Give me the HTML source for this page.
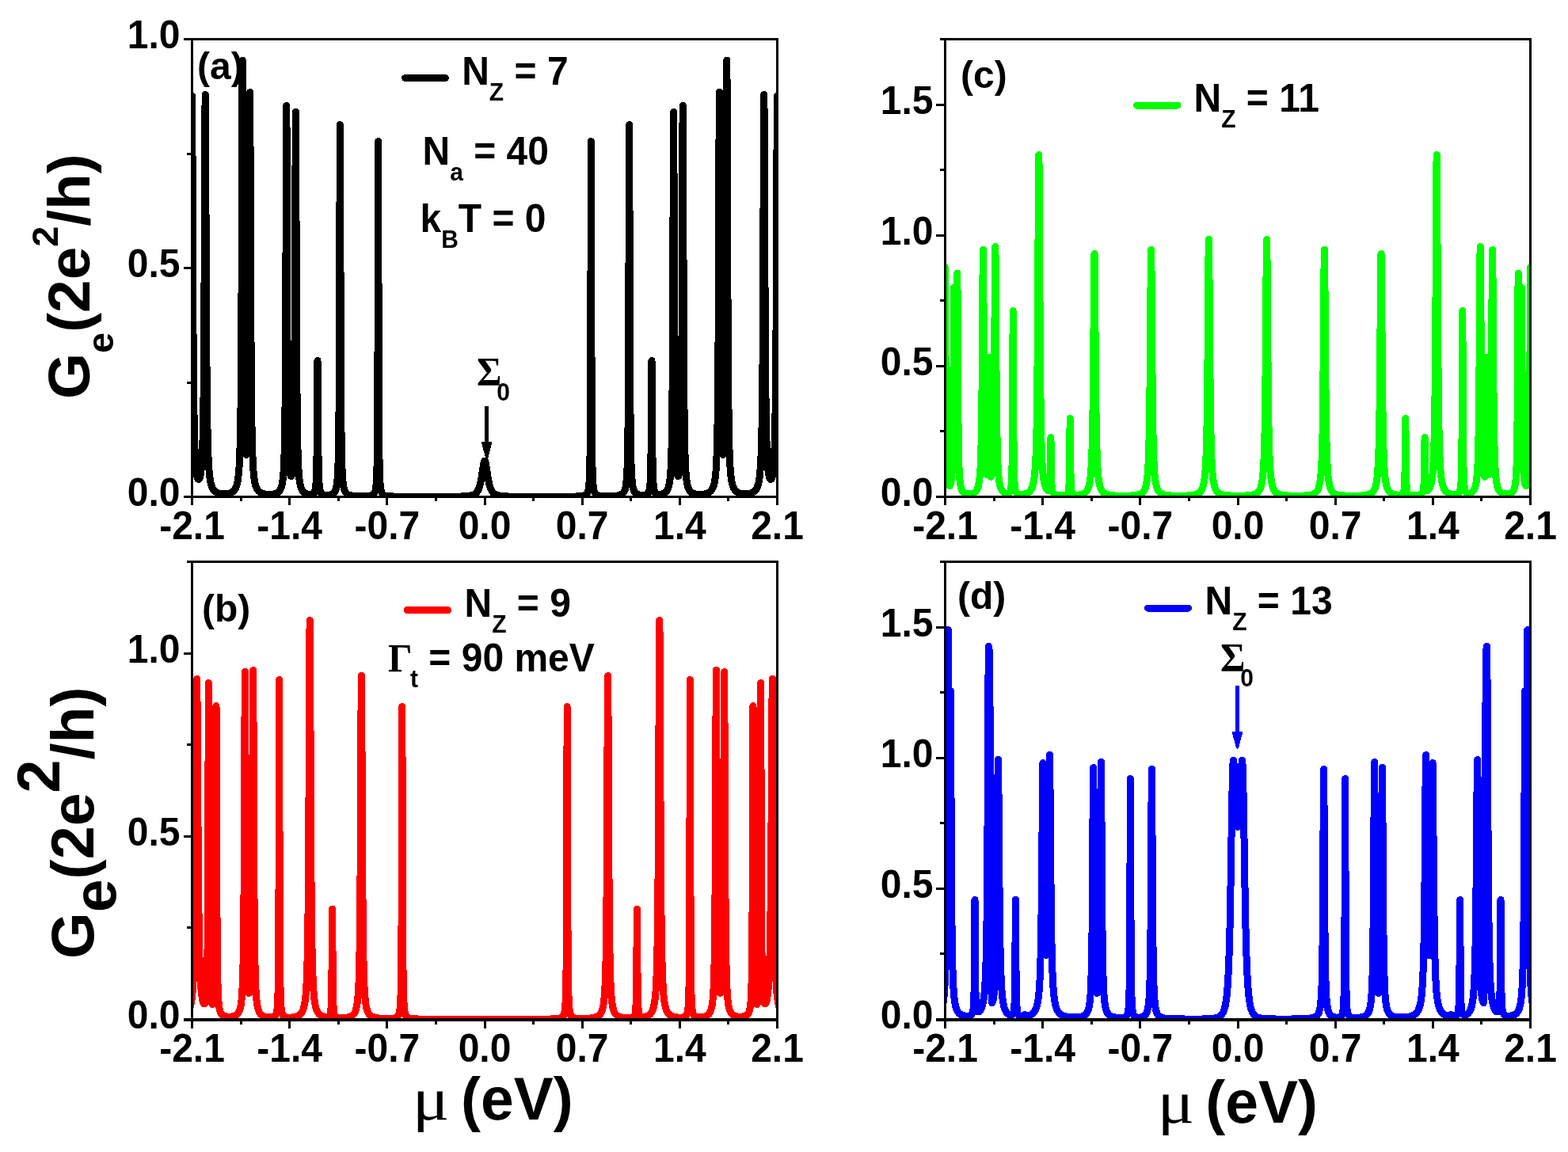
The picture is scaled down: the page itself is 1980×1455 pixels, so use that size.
<!DOCTYPE html>
<html lang="en"><head><meta charset="utf-8"><title>Conductance of zigzag graphene nanoribbon segments</title>
<style>html,body{margin:0;padding:0;background:#fff}body{width:1980px;height:1455px;overflow:hidden}svg{display:block}text{font-family:"Liberation Sans",sans-serif;font-weight:bold;fill:#000}.tk{font-size:48px}.ti{font-size:75px}.sy{font-family:"Liberation Serif",serif}.sr{font-family:"Liberation Serif",serif;font-weight:normal}</style></head><body>
<svg width="1980" height="1455" viewBox="0 0 1980 1455">
<rect width="1980" height="1455" fill="#fff"/>
<defs>
<clipPath id="clip-a"><rect x="241.0" y="48.0" width="742.0" height="581.0"/></clipPath>
<clipPath id="clip-b"><rect x="241.0" y="708.0" width="742.0" height="581.0"/></clipPath>
<clipPath id="clip-c"><rect x="1192.0" y="48.0" width="742.0" height="581.0"/></clipPath>
<clipPath id="clip-d"><rect x="1192.0" y="708.0" width="742.0" height="581.0"/></clipPath>
</defs>
<g clip-path="url(#clip-a)"><polyline points="234.5,614.25 235.1,612.26 235.6,610.22 236.1,607.71 236.6,604.59 237.4,597.73 238.1,588.74 238.7,577.32 239.2,563.48 239.6,547.98 240,526.45 240.5,486.15 241,421.68 241.4,344.31 242.1,169.38 242.3,134.42 242.4,124.81 242.5,121.5 242.6,124.74 242.7,134.28 242.9,169.11 243.5,320.29 243.9,403.79 244.2,450.01 244.6,494.31 245.1,530.71 245.4,545.91 245.8,561.09 246.2,572.19 246.7,582.21 247.2,589.34 247.8,595.35 248.4,599.47 249,602.28 249.3,603.29 249.7,604.32 250,604.87 250.4,605.33 250.8,605.5 251.2,605.38 251.6,604.98 251.9,604.48 252.3,603.52 252.6,602.56 253.2,599.91 253.7,596.76 254.2,592.46 254.6,587.9 255,581.98 255.4,574.22 255.7,566.75 256.2,549.8 256.6,530.24 257,502.42 257.3,473.59 257.6,435.19 258.1,342.39 258.9,147.53 259.1,122.76 259.2,119.5 259.3,122.82 259.4,132.46 259.6,167.53 260.2,319.64 260.6,403.7 260.9,450.29 261.2,485.38 261.7,525.8 262.3,555.78 262.7,569.1 263.1,579.04 263.6,588.25 264.1,595.03 264.8,601.85 265.2,604.79 265.7,607.76 266.2,610.16 266.7,612.11 267.3,614.01 268,615.77 268.8,617.34 269.6,618.57 270.5,619.66 271.5,620.61 272.6,621.4 273.9,622.12 275.3,622.68 276.9,623.15 279.2,623.57 281.8,623.78 284.5,623.77 287,623.53 289.2,623.11 291.1,622.51 292.8,621.71 294.3,620.69 295.5,619.54 296.6,618.1 297.5,616.52 298.3,614.66 299,612.53 299.6,610.18 300.2,607.15 300.7,603.88 301.4,597.65 302,589.91 302.5,580.75 302.9,570.67 303.3,556.87 303.6,542.94 303.9,524.58 304.2,499.9 304.6,452.24 304.9,400.18 305.3,300.88 305.9,115.66 306.1,80.88 306.2,76.1 306.3,80.61 306.5,114.85 307.3,352.08 307.8,447.64 308.1,484.23 308.5,517.55 308.9,539.35 309.4,556.62 309.9,566.88 310.2,570.69 310.5,573.12 310.8,574.33 310.9,574.48 311,574.5 311.1,574.39 311.4,573.3 311.7,570.98 312.2,563.86 312.7,551.2 313.1,535.03 313.4,517.55 313.9,472.18 314.3,412.48 314.7,321.85 315.3,152.27 315.5,120.65 315.6,116.5 315.7,120.95 315.9,153.15 316.6,350.74 317.1,450.3 317.4,489.09 317.7,517.21 318,537.88 318.4,557.66 318.9,574.4 319.5,587.52 320.2,597.36 320.6,601.37 321.1,605.29 321.6,608.34 322.2,611.18 322.8,613.39 323.5,615.39 324.3,617.14 325.2,618.64 326.3,620.02 327.5,621.12 328.5,621.82 329.7,622.47 331,623.01 332.4,623.46 334,623.83 335.8,624.11 337.7,624.3 339.6,624.38 341.5,624.37 343.4,624.25 345.1,624.04 346.7,623.72 348.1,623.32 349.3,622.84 350.4,622.26 351.4,621.55 352.1,620.92 352.8,620.13 353.4,619.3 353.9,618.47 354.4,617.47 354.9,616.25 355.7,613.67 356.4,610.47 357,606.62 357.5,602.21 358,596.1 358.4,589.36 358.7,582.72 359,574.14 359.3,562.83 359.8,534.34 360.2,496.73 360.7,414.96 361.5,178.18 361.7,138.93 361.8,133.5 361.9,138.83 362.1,177.86 362.7,365.01 363.2,468.37 363.5,505.97 363.9,538.93 364.4,563.9 364.9,578.89 365.2,585.03 365.6,591.02 366,595.23 366.5,598.69 367,600.67 367.2,601.13 367.5,601.47 367.7,601.49 367.8,601.43 368.1,601 368.4,600.16 368.6,599.36 369,597.06 369.4,593.65 369.8,588.74 370.1,583.72 370.6,571.56 371.1,551.69 371.4,533.53 371.7,507.87 372.2,437.32 372.6,341.29 373.1,185.13 373.3,146.74 373.4,141.5 373.5,146.85 373.7,185.46 374.3,370.25 374.7,456.64 375.2,519.57 375.5,542.78 375.8,559.45 376.2,575.09 376.7,588.08 377.3,598.1 378,605.52 378.4,608.51 378.9,611.43 379.5,614.07 380.1,616.06 380.8,617.83 381.5,619.18 382.4,620.49 383.4,621.56 384.5,622.42 385.8,623.16 387.3,623.75 388.9,624.16 390.6,624.39 392.3,624.42 393.7,624.24 394.9,623.82 395.7,623.31 396.4,622.59 396.9,621.82 397.4,620.7 397.8,619.4 398.1,618.07 398.4,616.28 398.7,613.81 399.1,608.75 399.5,599.94 399.8,588.52 400,576.79 400.4,535.66 400.8,470.8 400.9,459.6 401,455.5 401.1,459.61 401.2,470.81 401.7,548.83 402.1,583.27 402.4,596.86 402.7,605.12 403.1,611.76 403.4,614.91 403.7,617.15 404,618.79 404.3,620.02 404.7,621.24 405.1,622.13 405.6,622.95 406.2,623.63 406.8,624.12 407.6,624.57 408.7,624.96 410,625.22 411.5,625.37 413.2,625.39 414.9,625.29 416.5,625.07 417.9,624.74 419.1,624.31 420.5,623.55 421.1,623.08 421.7,622.5 422.2,621.9 422.7,621.16 423.5,619.56 424.2,617.52 424.8,614.99 425.3,612.02 425.8,607.79 426.3,601.49 426.7,593.97 427,585.98 427.3,574.84 427.7,551.83 428.1,511.6 428.4,460.26 428.6,409.86 429.2,189.3 429.3,165.87 429.4,157.5 429.5,165.88 429.6,189.3 430.1,378.59 430.4,460.29 430.8,524.04 431,543.9 431.3,564.88 431.6,579.06 432,591.65 432.5,601.58 433,607.89 433.3,610.62 433.7,613.45 434.1,615.62 434.6,617.67 435.1,619.22 435.7,620.62 436.4,621.83 437.1,622.74 437.9,623.51 438.7,624.1 439.6,624.6 440.7,625.06 441.9,625.43 443.3,625.75 446.7,626.22 449.5,626.44 452.9,626.59 456.6,626.66 460.2,626.65 463,626.55 465.3,626.39 467.1,626.16 468.6,625.84 470.1,625.29 470.7,624.97 471.3,624.54 472.2,623.61 472.6,623.03 473,622.29 473.7,620.42 474.2,618.34 474.6,615.89 475,612.27 475.3,608.31 475.6,602.56 475.9,593.8 476.1,585.2 476.4,564.86 476.7,527.18 477,451.21 477.5,197.02 477.6,178.5 477.7,197.02 478.2,451.21 478.5,527.2 478.8,564.87 479,579.66 479.3,593.83 479.6,602.58 480,609.82 480.5,615.16 480.8,617.27 481.1,618.87 481.4,620.12 481.8,621.39 482.3,622.56 482.8,623.41 483.2,623.93 483.7,624.45 484.8,625.24 486.2,625.84 487.9,626.28 490.1,626.6 492.9,626.83 496.7,627 501.7,627.12 516.6,627.26 542,627.31 564,627.27 577.3,627.14 584.4,626.94 589.6,626.6 591.7,626.38 593.5,626.1 595.1,625.77 596.5,625.38 598,624.81 599.4,624.07 600.6,623.21 601.6,622.26 602.5,621.16 603.4,619.75 604.2,618.16 605,616.17 605.6,614.34 606.2,612.18 606.8,609.64 607.4,606.68 608.3,601.46 610.1,589.49 610.8,585.5 611.2,583.79 611.5,582.86 611.8,582.29 612.1,582.1 612.4,582.29 612.7,582.86 613,583.79 613.4,585.5 614.1,589.49 615.9,601.46 616.8,606.68 617.4,609.64 618,612.18 618.6,614.34 619.2,616.17 620,618.16 620.8,619.75 621.7,621.16 622.6,622.26 623.7,623.29 624.9,624.13 626.3,624.85 627.8,625.41 629.2,625.79 630.8,626.12 632.7,626.4 634.8,626.62 640,626.94 647.3,627.15 661.6,627.28 685.4,627.31 709.8,627.25 723.7,627.09 728.4,626.96 731.9,626.78 734.6,626.52 736.6,626.17 738.2,625.7 739.5,625.06 740.1,624.63 740.6,624.16 741.4,623.1 741.9,622.14 742.4,620.8 742.8,619.32 743.1,617.85 743.4,615.93 743.7,613.36 744.1,608.34 744.5,600.08 744.8,589.88 745.2,564.87 745.5,527.2 745.8,451.21 746.3,197.02 746.4,178.5 746.5,197.02 747,451.21 747.3,527.18 747.6,564.86 747.9,585.2 748.1,593.8 748.4,602.56 748.7,608.31 749,612.27 749.4,615.89 749.8,618.34 750.3,620.42 751,622.29 751.4,623.03 751.8,623.61 752.3,624.18 752.8,624.62 753.4,625.03 754,625.34 755.5,625.87 757.1,626.19 759.1,626.43 761.5,626.58 764.5,626.66 768.3,626.65 772.1,626.56 775.4,626.38 778.1,626.14 779.9,625.89 781.4,625.6 782.7,625.26 783.9,624.83 784.9,624.34 785.8,623.75 786.6,623.05 787.3,622.25 788,621.19 788.7,619.73 789.2,618.34 789.7,616.51 790.1,614.6 790.5,612.14 790.9,608.87 791.2,605.68 791.7,598.17 792.1,589 792.5,574.9 792.8,558.81 793.2,524.04 793.6,460.29 793.9,378.59 794.4,189.3 794.5,165.88 794.6,157.5 794.7,165.87 794.8,189.3 795.4,409.86 795.6,460.26 795.9,511.6 796.3,551.83 796.7,574.84 797,585.98 797.3,593.97 797.7,601.49 798.2,607.79 798.7,612.02 799.2,614.99 799.8,617.52 800.5,619.56 801.3,621.16 801.8,621.9 802.3,622.5 802.9,623.08 803.5,623.55 804.9,624.31 806.1,624.74 807.5,625.07 809.1,625.29 810.8,625.39 812.5,625.37 814,625.22 815.3,624.96 816.4,624.57 817.2,624.12 817.8,623.63 818.4,622.95 818.9,622.13 819.3,621.24 819.7,620.02 820,618.79 820.3,617.15 820.6,614.91 820.9,611.76 821.3,605.12 821.6,596.86 821.9,583.27 822.3,548.83 822.8,470.81 822.9,459.61 823,455.5 823.1,459.6 823.2,470.8 823.6,535.66 824,576.79 824.3,592.99 824.6,602.66 825,610.27 825.4,614.73 825.7,616.94 826,618.56 826.4,620.11 826.8,621.2 827.3,622.16 827.9,622.94 828.6,623.53 829.4,623.96 830.7,624.32 832.2,624.44 833.9,624.34 835.7,624.03 837.3,623.54 838.7,622.91 839.9,622.14 841,621.17 841.9,620.09 842.7,618.83 843.4,617.37 844.1,615.46 844.7,613.27 845.2,610.9 845.7,607.83 846.1,604.65 846.5,600.58 846.8,596.72 847.4,585.9 847.9,571.72 848.3,554.47 848.6,535.91 848.9,509.86 849.4,438.7 849.8,342.19 850.3,185.46 850.5,146.85 850.6,141.5 850.7,146.74 850.9,185.13 851.4,341.29 851.8,437.32 852.3,507.87 852.6,533.53 852.9,551.69 853.4,571.56 853.9,583.72 854.2,588.74 854.6,593.65 855,597.06 855.4,599.36 855.6,600.16 855.9,601 856.2,601.43 856.3,601.49 856.5,601.47 856.8,601.13 857,600.67 857.5,598.69 858,595.23 858.4,591.02 858.8,585.03 859.1,578.89 859.6,563.9 860.1,538.93 860.5,505.97 860.8,468.37 861.3,365.01 861.9,177.86 862.1,138.83 862.2,133.5 862.3,138.93 862.5,178.18 863.3,414.96 863.8,496.73 864.2,534.34 864.7,562.83 865,574.14 865.3,582.72 865.7,591.24 866.1,597.5 866.6,603.21 867.1,607.36 867.7,611 868.5,614.4 869.3,616.76 869.8,617.89 870.3,618.82 870.9,619.74 871.5,620.49 872.2,621.2 872.9,621.78 874,622.49 875.2,623.06 876.5,623.51 878,623.88 879.7,624.15 881.5,624.32 883.5,624.39 885.5,624.34 887.4,624.2 889.2,623.97 890.9,623.63 892.4,623.22 893.8,622.7 895,622.11 896.1,621.42 897.1,620.61 898.2,619.44 899.2,618.03 900.1,616.33 900.9,614.31 901.6,611.98 902.2,609.37 902.7,606.6 903.2,603.06 903.6,599.48 904,594.97 904.4,589.21 904.7,583.76 905.2,571.57 905.7,553.37 906.1,531.66 906.4,508.8 906.7,477.54 907,434.3 907.4,350.74 908.1,153.15 908.3,120.95 908.4,116.5 908.5,120.65 908.7,152.27 909.3,321.85 909.7,412.48 910.1,472.18 910.6,517.55 910.9,535.03 911.3,551.2 911.8,563.86 912.3,570.98 912.6,573.3 912.9,574.39 913,574.5 913.1,574.48 913.2,574.33 913.5,573.12 913.8,570.69 914.1,566.88 914.6,556.62 915.1,539.35 915.5,517.55 915.9,484.23 916.2,447.64 916.7,352.08 917.5,114.85 917.7,80.61 917.8,76.1 917.9,80.88 918.1,115.66 918.7,300.88 919.1,400.18 919.4,452.24 919.8,499.9 920.1,524.58 920.4,542.94 920.7,556.87 921.1,570.67 921.5,580.75 922,589.91 922.6,597.65 923.3,603.88 923.8,607.15 924.4,610.18 925,612.53 925.7,614.66 926.5,616.52 927.4,618.1 928.5,619.54 929.7,620.69 931.2,621.71 932.9,622.51 934.8,623.11 937,623.53 939.5,623.77 942.2,623.78 944.8,623.57 947.1,623.15 948.7,622.68 950.1,622.12 951.4,621.4 952.5,620.61 953.5,619.66 954.4,618.57 955.2,617.34 956,615.77 956.7,614.01 957.3,612.11 957.8,610.16 958.3,607.76 958.8,604.79 959.2,601.85 959.9,595.03 960.4,588.25 960.9,579.04 961.3,569.1 961.7,555.78 962.3,525.8 962.8,485.38 963.1,450.29 963.4,403.7 963.8,319.64 964.4,167.53 964.6,132.46 964.7,122.82 964.8,119.5 964.9,122.76 965.1,147.53 965.9,342.39 966.4,435.19 966.7,473.59 967,502.42 967.4,530.24 967.8,549.8 968.3,566.75 968.6,574.22 969,581.98 969.4,587.9 969.8,592.46 970.3,596.76 970.8,599.91 971.4,602.56 971.7,603.52 972.1,604.48 972.4,604.98 972.8,605.38 973.2,605.5 973.6,605.33 974,604.87 974.3,604.32 974.7,603.29 975,602.28 975.6,599.47 976.2,595.35 976.8,589.34 977.3,582.21 977.8,572.19 978.2,561.09 978.6,545.91 978.9,530.71 979.4,494.31 979.8,450.01 980.1,403.79 980.5,320.29 981.1,169.11 981.3,134.28 981.4,124.74 981.5,121.5 981.6,124.81 981.7,134.42 981.9,169.38 982.6,344.31 983,421.68 983.5,486.15 984,526.45 984.4,547.98 984.8,563.48 985.3,577.32 985.9,588.74 986.6,597.73 987.4,604.59 987.9,607.71 988.4,610.22 988.9,612.26 989.5,614.25" fill="none" stroke="#000000" stroke-width="9.0" stroke-linejoin="round" stroke-linecap="butt" shape-rendering="crispEdges"/></g>
<path d="M241.0 49.5H983.0M241.0 627.5H983.0M242.5 49.5V627.5M981.5 49.5V627.5M242.5 627.5v10.0M304.08 627.5v5.5M365.67 627.5v10.0M427.25 627.5v5.5M488.83 627.5v10.0M550.42 627.5v5.5M612 627.5v10.0M673.58 627.5v5.5M735.17 627.5v10.0M796.75 627.5v5.5M858.33 627.5v10.0M919.92 627.5v5.5M981.5 627.5v10.0M242.5 627.5h-10.5M242.5 483h-6.5M242.5 338.5h-10.5M242.5 194h-6.5M242.5 49.5h-10.5" fill="none" stroke="#000" stroke-width="3" shape-rendering="crispEdges"/>
<text class="tk" transform="translate(242.5 680.7) scale(1 1.05)" text-anchor="middle">-2.1</text>
<text class="tk" transform="translate(365.67 680.7) scale(1 1.05)" text-anchor="middle">-1.4</text>
<text class="tk" transform="translate(488.83 680.7) scale(1 1.05)" text-anchor="middle">-0.7</text>
<text class="tk" transform="translate(612 680.7) scale(1 1.05)" text-anchor="middle">0.0</text>
<text class="tk" transform="translate(735.17 680.7) scale(1 1.05)" text-anchor="middle">0.7</text>
<text class="tk" transform="translate(858.33 680.7) scale(1 1.05)" text-anchor="middle">1.4</text>
<text class="tk" transform="translate(981.5 680.7) scale(1 1.05)" text-anchor="middle">2.1</text>
<text class="tk" transform="translate(227.5 639.1) scale(1 1.05)" text-anchor="end">0.0</text>
<text class="tk" transform="translate(227.5 350.1) scale(1 1.05)" text-anchor="end">0.5</text>
<text class="tk" transform="translate(227.5 61.1) scale(1 1.05)" text-anchor="end">1.0</text>
<g clip-path="url(#clip-b)"><polyline points="234.5,1281.55 235.8,1280.38 237,1278.94 238,1277.38 238.9,1275.55 239.7,1273.47 240.4,1271.16 241.1,1268.21 241.7,1264.99 242.2,1261.65 242.7,1257.5 243.2,1252.28 243.6,1247.07 244.3,1234.79 244.9,1219.45 245.4,1201.31 245.8,1181.59 246.2,1155.28 246.5,1129.78 247.1,1059.1 248.2,882.98 248.4,864.18 248.5,859.2 248.6,857.5 248.7,859.17 248.8,864.12 249,882.86 250.2,1072.44 250.6,1119.34 251.1,1161.82 251.7,1195.89 252,1208.19 252.4,1221.15 252.8,1231.16 253.2,1239.01 253.7,1246.59 254.3,1253.33 254.8,1257.53 255.4,1261.34 256,1264.11 256.6,1266.07 256.9,1266.78 257.3,1267.46 257.6,1267.79 257.9,1267.94 258.2,1267.91 258.5,1267.69 258.8,1267.23 259.1,1266.51 259.5,1265.03 259.9,1262.74 260.3,1259.29 260.6,1255.58 261.1,1245.87 261.5,1232.49 261.8,1216.4 262,1200.85 262.4,1149.11 262.7,1078.73 263.2,896.16 263.3,871.45 263.4,862.5 263.5,871.49 263.6,896.26 264.1,1079.06 264.5,1166.07 264.8,1201.51 265.2,1228.71 265.6,1244.13 265.9,1251.53 266.2,1256.77 266.5,1260.56 266.9,1264.07 267.3,1266.35 267.7,1267.73 267.9,1268.15 268.1,1268.41 268.4,1268.49 268.6,1268.34 268.9,1267.81 269.1,1267.22 269.5,1265.38 269.8,1263.27 270.1,1260.28 270.6,1252.35 271,1241.46 271.3,1228.47 271.7,1198.99 272.1,1141.49 272.4,1063.94 272.8,922.98 272.9,899.85 273,891.5 273.1,899.96 273.2,923.2 273.7,1094.71 274.1,1176.42 274.4,1209.79 274.7,1230.42 275.1,1247.21 275.5,1257.39 275.8,1262.57 276.1,1266.43 276.5,1270.21 276.9,1272.95 277.4,1275.44 277.9,1277.24 278.5,1278.81 279.3,1280.29 280.2,1281.42 281.3,1282.35 282.6,1283.07 284.1,1283.6 286,1283.98 288.2,1284.18 290.5,1284.16 292.7,1283.95 294.7,1283.55 296.4,1282.99 297.9,1282.24 299.2,1281.3 300.3,1280.17 301.3,1278.73 302.2,1276.91 302.9,1274.98 303.5,1272.79 304.1,1269.86 304.6,1266.6 305.1,1262.25 305.5,1257.62 305.8,1253.2 306.4,1240.64 306.9,1223.94 307.3,1203.35 307.6,1181.02 307.9,1149.63 308.4,1065.8 309.1,884.44 309.3,852.86 309.4,848.5 309.5,852.7 309.7,883.96 310.3,1041.51 310.6,1103.11 311,1158.66 311.4,1193.28 311.7,1210.64 312,1223.21 312.4,1234.95 312.8,1242.85 313.3,1249.17 313.6,1251.6 313.9,1253.24 314.2,1254.17 314.4,1254.44 314.6,1254.44 314.9,1253.92 315.2,1252.74 315.7,1249.11 316.2,1242.75 316.6,1234.81 316.9,1226.42 317.2,1215.05 317.5,1199.41 317.9,1168.43 318.2,1133.53 318.5,1083.84 319.3,882.13 319.5,850.72 319.6,846.5 319.7,850.88 319.9,882.62 320.5,1041.92 320.8,1104.33 321.1,1149.1 321.4,1180.65 321.9,1214.5 322.2,1227.8 322.6,1240.58 323,1249.65 323.5,1257.65 324,1263.3 324.6,1268.12 325,1270.54 325.4,1272.5 325.9,1274.48 326.4,1276.06 327,1277.57 327.6,1278.77 328.3,1279.88 329.1,1280.88 330,1281.75 331,1282.5 332.1,1283.12 333.3,1283.64 334.7,1284.09 336.3,1284.45 338,1284.71 339.7,1284.85 341.2,1284.89 342.6,1284.83 343.8,1284.68 344.9,1284.42 345.8,1284.08 346.6,1283.61 347.2,1283.1 347.8,1282.38 348.3,1281.52 348.7,1280.59 349.1,1279.31 349.4,1278.03 349.7,1276.35 350,1274.06 350.4,1269.51 350.7,1264.18 350.9,1259.08 351.3,1241.92 351.6,1216.43 351.8,1186.4 352.1,1098.98 352.5,879.41 352.6,858.5 352.7,879.41 353.1,1098.98 353.4,1186.41 353.6,1216.45 353.9,1241.94 354.3,1259.1 354.5,1264.2 354.8,1269.54 355.2,1274.1 355.6,1277.01 356.1,1279.36 356.4,1280.36 356.8,1281.37 357.2,1282.14 357.6,1282.72 358.1,1283.28 358.7,1283.77 359.4,1284.19 360.1,1284.48 360.9,1284.72 361.9,1284.92 363.6,1285.09 365.6,1285.13 367.8,1285.04 369.9,1284.82 371.8,1284.5 373.6,1284.07 375.1,1283.57 376.5,1282.95 377.7,1282.24 378.7,1281.49 379.6,1280.64 380.5,1279.56 381.3,1278.35 382,1277.02 382.6,1275.62 383.2,1273.9 383.8,1271.77 384.3,1269.57 384.8,1266.86 385.3,1263.47 385.7,1260.12 386.1,1256.01 386.7,1247.88 387.3,1236.23 387.8,1222.26 388.2,1206.78 388.6,1185.56 389.1,1146.58 389.6,1085.68 390.1,992.46 390.8,826.68 391,795.04 391.1,786.43 391.2,783.5 391.3,786.43 391.4,795.04 391.6,826.68 392.4,1013.99 392.9,1100.13 393.2,1136.49 393.6,1171.97 394,1197.04 394.4,1215.11 394.9,1231.22 395.6,1246.23 396.3,1256.01 396.7,1260.12 397.2,1264.22 397.7,1267.45 398.3,1270.51 399,1273.25 399.7,1275.36 400.5,1277.23 401.5,1278.99 402.5,1280.3 403.7,1281.48 404.8,1282.29 406,1282.96 407.3,1283.51 408.8,1283.97 410.4,1284.29 411.9,1284.42 413.2,1284.38 414.3,1284.15 415,1283.84 415.6,1283.39 416.1,1282.81 416.5,1282.11 416.9,1281.07 417.2,1279.93 417.7,1276.78 418.1,1271.95 418.4,1265.37 418.6,1258.22 418.8,1247.09 419.1,1216.93 419.5,1153.39 419.6,1148.1 419.7,1153.4 420.2,1229.41 420.5,1253.38 420.8,1265.5 421.1,1272.11 421.3,1274.93 421.6,1277.8 421.9,1279.7 422.2,1281.01 422.6,1282.21 423,1283.03 423.5,1283.73 424,1284.21 424.7,1284.66 425.5,1285 426.5,1285.26 427.8,1285.46 429.8,1285.6 432.2,1285.61 434.7,1285.49 437.1,1285.24 439.1,1284.92 440.8,1284.51 442.3,1284 443.6,1283.4 445.1,1282.43 445.8,1281.82 446.4,1281.19 447.5,1279.71 448.5,1277.79 449.4,1275.33 450.1,1272.68 450.7,1269.63 451.3,1265.5 451.9,1259.76 452.4,1253.08 452.8,1245.86 453.2,1236.2 453.6,1222.92 453.9,1209.52 454.4,1176.97 454.8,1136.53 455.1,1093.61 456.1,880.38 456.3,856.66 456.4,853.5 456.5,856.66 456.7,880.38 457.5,1057.51 457.9,1123.63 458.4,1177 458.7,1198.36 459.1,1218.88 459.6,1236.24 460.1,1247.91 460.7,1257.4 461.4,1264.75 461.8,1267.81 462.3,1270.83 462.8,1273.2 463.4,1275.43 464,1277.17 464.7,1278.76 465.5,1280.15 466.4,1281.34 467.2,1282.17 468.1,1282.9 469.1,1283.54 470.3,1284.14 471.6,1284.64 473,1285.04 474.6,1285.4 476.4,1285.7 478.9,1286 481.8,1286.23 485.1,1286.39 488.5,1286.46 491.6,1286.45 494.2,1286.36 496.4,1286.17 498.1,1285.9 499.8,1285.41 500.5,1285.1 501.1,1284.75 501.7,1284.29 502.2,1283.79 503,1282.63 503.7,1281.02 504.2,1279.26 504.7,1276.61 505.1,1273.4 505.4,1269.92 505.7,1264.96 506,1257.57 506.2,1250.45 506.5,1234.12 506.8,1205.15 507,1172.45 507.2,1120.84 507.6,944.74 507.7,907 507.8,892.5 507.9,907 508.3,1085.14 508.5,1149.6 508.8,1205.17 509.1,1234.15 509.3,1245.96 509.6,1257.61 509.9,1265.01 510.3,1271.27 510.7,1275.23 511,1277.31 511.3,1278.89 511.6,1280.13 512,1281.39 512.4,1282.34 512.9,1283.23 513.7,1284.23 514.7,1285.02 515.9,1285.62 517.4,1286.08 519.3,1286.43 521.7,1286.69 524.8,1286.89 528.9,1287.03 543,1287.22 569.7,1287.32 624.1,1287.35 668.8,1287.28 683.6,1287.2 693.2,1287.07 699.5,1286.87 703.7,1286.56 705.3,1286.34 706.7,1286.06 707.8,1285.74 708.8,1285.31 709.6,1284.82 710.3,1284.23 710.9,1283.53 711.5,1282.54 711.9,1281.65 712.3,1280.48 712.7,1278.89 713,1277.31 713.5,1273.45 713.9,1268.52 714.2,1262.87 714.5,1254.32 714.8,1240.59 715,1226.36 715.3,1190.65 715.5,1149.6 715.7,1085.14 716.1,907 716.2,892.5 716.3,907 716.4,944.74 716.8,1120.84 717,1172.45 717.2,1205.15 717.5,1234.12 717.8,1250.45 718,1257.57 718.3,1264.96 718.6,1269.92 719,1274.33 719.4,1277.24 719.9,1279.67 720.5,1281.56 720.9,1282.44 721.3,1283.13 721.7,1283.67 722.2,1284.2 722.8,1284.69 723.4,1285.05 724.1,1285.38 724.9,1285.65 726.8,1286.06 728.8,1286.29 731.3,1286.42 734.3,1286.47 737.7,1286.42 741,1286.3 744,1286.1 746.6,1285.83 748.9,1285.49 750.6,1285.14 752.1,1284.73 753.5,1284.23 754.7,1283.66 755.8,1282.97 756.7,1282.26 757.5,1281.46 758.3,1280.45 759.1,1279.14 759.9,1277.43 760.5,1275.75 761.1,1273.62 761.6,1271.35 762.1,1268.47 762.5,1265.58 762.9,1261.97 763.6,1253.13 764.1,1243.76 764.6,1230.15 765,1214.43 765.3,1198.36 765.6,1177 766.1,1123.63 766.5,1057.51 767.3,880.38 767.5,856.66 767.6,853.5 767.7,856.66 767.9,880.38 768.9,1093.61 769.2,1136.53 769.6,1176.97 770.1,1209.52 770.4,1222.92 770.8,1236.2 771.2,1245.86 771.6,1253.08 772.1,1259.76 772.7,1265.5 773.3,1269.63 773.9,1272.68 774.6,1275.33 775.5,1277.79 776.5,1279.71 777.6,1281.19 778.2,1281.82 778.9,1282.43 780.4,1283.4 781.7,1284 783.2,1284.51 784.9,1284.92 786.9,1285.24 789.3,1285.49 791.8,1285.61 794.2,1285.6 796.2,1285.46 797.5,1285.26 798.5,1285 799.3,1284.66 800,1284.21 800.5,1283.73 801,1283.03 801.4,1282.21 801.8,1281.01 802.1,1279.7 802.4,1277.8 802.7,1274.93 802.9,1272.11 803.2,1265.5 803.5,1253.38 803.8,1229.41 804.3,1153.4 804.4,1148.1 804.5,1153.39 804.9,1216.93 805.2,1247.09 805.4,1258.22 805.7,1267.99 806,1273.47 806.4,1277.59 806.7,1279.45 807,1280.73 807.3,1281.64 807.7,1282.49 808.2,1283.19 808.8,1283.71 809.5,1284.08 810.4,1284.32 811.8,1284.43 813.4,1284.31 815.1,1284 816.8,1283.48 818.2,1282.86 819.5,1282.09 820.6,1281.22 821.6,1280.18 822.6,1278.83 823.5,1277.23 824.3,1275.36 825,1273.25 825.6,1270.95 826.2,1268.02 826.7,1264.92 827.2,1261.02 827.6,1257.12 828,1252.29 828.7,1240.62 829.3,1225.47 829.8,1206.79 830.2,1185.56 830.5,1164.24 830.8,1136.49 831.1,1100.13 831.6,1013.99 832.4,826.68 832.6,795.04 832.7,786.43 832.8,783.5 832.9,786.43 833,795.04 833.2,826.68 833.9,992.46 834.4,1085.68 834.9,1146.58 835.4,1185.56 835.8,1206.78 836.2,1222.26 836.7,1236.23 837.3,1247.88 837.9,1256.01 838.3,1260.12 838.7,1263.47 839.2,1266.86 839.7,1269.57 840.2,1271.77 840.8,1273.9 841.4,1275.62 842,1277.02 842.7,1278.35 843.5,1279.56 844.4,1280.64 845.3,1281.49 846.3,1282.24 847.5,1282.95 848.9,1283.57 850.4,1284.07 852.2,1284.5 854.1,1284.82 856.2,1285.04 858.4,1285.13 860.4,1285.09 862.1,1284.92 863.1,1284.72 863.9,1284.48 864.6,1284.19 865.3,1283.77 865.9,1283.28 866.4,1282.72 866.8,1282.14 867.2,1281.37 867.6,1280.36 867.9,1279.36 868.4,1277.01 868.8,1274.1 869.2,1269.54 869.5,1264.2 869.7,1259.1 870.1,1241.94 870.4,1216.45 870.6,1186.41 870.9,1098.98 871.3,879.41 871.4,858.5 871.5,879.41 871.9,1098.98 872.2,1186.4 872.4,1216.43 872.7,1241.92 873.1,1259.08 873.3,1264.18 873.6,1269.51 874,1274.06 874.3,1276.35 874.6,1278.03 874.9,1279.31 875.3,1280.59 875.7,1281.52 876.2,1282.38 876.8,1283.1 877.4,1283.61 878.2,1284.08 879.1,1284.42 880.2,1284.68 881.4,1284.83 882.8,1284.89 884.3,1284.85 886,1284.71 887.7,1284.45 889.3,1284.09 890.7,1283.64 891.9,1283.12 893,1282.5 894,1281.75 894.9,1280.88 895.7,1279.88 896.4,1278.77 897,1277.57 897.6,1276.06 898.1,1274.48 898.6,1272.5 899,1270.54 899.4,1268.12 900,1263.3 900.5,1257.65 901,1249.65 901.4,1240.58 901.8,1227.8 902.1,1214.5 902.6,1180.65 902.9,1149.1 903.2,1104.33 903.5,1041.92 904.1,882.62 904.3,850.88 904.4,846.5 904.5,850.72 904.7,882.13 905.5,1083.84 905.8,1133.53 906.1,1168.43 906.5,1199.41 906.8,1215.05 907.1,1226.42 907.4,1234.81 907.8,1242.75 908.3,1249.11 908.8,1252.74 909.1,1253.92 909.4,1254.44 909.6,1254.44 909.8,1254.17 910.1,1253.24 910.4,1251.6 910.7,1249.17 911.2,1242.85 911.6,1234.95 912,1223.21 912.3,1210.64 912.6,1193.28 913,1158.66 913.4,1103.11 913.7,1041.51 914.3,883.96 914.5,852.7 914.6,848.5 914.7,852.86 914.9,884.44 915.6,1065.8 916.1,1149.63 916.4,1181.02 916.7,1203.35 917.1,1223.94 917.6,1240.64 918.2,1253.2 918.5,1257.62 918.9,1262.25 919.4,1266.6 919.9,1269.86 920.5,1272.79 921.1,1274.98 921.8,1276.91 922.7,1278.73 923.7,1280.17 924.8,1281.3 926.1,1282.24 927.6,1282.99 929.3,1283.55 931.3,1283.95 933.5,1284.16 935.8,1284.18 938,1283.98 939.9,1283.6 941.4,1283.07 942.7,1282.35 943.8,1281.42 944.7,1280.29 945.5,1278.81 946.1,1277.24 946.6,1275.44 947.1,1272.95 947.5,1270.21 947.9,1266.43 948.2,1262.57 948.5,1257.39 948.9,1247.21 949.3,1230.42 949.6,1209.79 949.9,1176.42 950.3,1094.71 950.8,923.2 950.9,899.96 951,891.5 951.1,899.85 951.2,922.98 951.6,1063.94 951.9,1141.49 952.3,1198.99 952.7,1228.47 953,1241.46 953.4,1252.35 953.9,1260.28 954.2,1263.27 954.5,1265.38 954.9,1267.22 955.1,1267.81 955.4,1268.34 955.6,1268.49 955.9,1268.41 956.1,1268.15 956.3,1267.73 956.7,1266.35 957.1,1264.07 957.5,1260.56 957.8,1256.77 958.1,1251.53 958.4,1244.13 958.8,1228.71 959.2,1201.51 959.5,1166.07 959.9,1079.06 960.4,896.26 960.5,871.49 960.6,862.5 960.7,871.45 960.8,896.16 961.3,1078.73 961.6,1149.11 962,1200.85 962.2,1216.4 962.5,1232.49 962.9,1245.87 963.4,1255.58 963.7,1259.29 964.1,1262.74 964.5,1265.03 964.9,1266.51 965.2,1267.23 965.5,1267.69 965.8,1267.91 966.1,1267.94 966.4,1267.79 966.7,1267.46 967.1,1266.78 967.4,1266.07 968,1264.11 968.6,1261.34 969.2,1257.53 969.7,1253.33 970.3,1246.59 970.8,1239.01 971.2,1231.16 971.6,1221.15 972,1208.19 972.3,1195.89 972.9,1161.82 973.4,1119.34 973.8,1072.44 975,882.86 975.2,864.12 975.3,859.17 975.4,857.5 975.5,859.2 975.6,864.18 975.8,882.98 976.9,1059.1 977.5,1129.78 977.8,1155.28 978.2,1181.59 978.6,1201.31 979.1,1219.45 979.7,1234.79 980.4,1247.07 980.8,1252.28 981.3,1257.5 981.8,1261.65 982.3,1264.99 982.9,1268.21 983.6,1271.16 984.3,1273.47 985.1,1275.55 986,1277.38 987,1278.94 988.2,1280.38 989.5,1281.55" fill="none" stroke="#ff0000" stroke-width="9.0" stroke-linejoin="round" stroke-linecap="butt" shape-rendering="crispEdges"/></g>
<path d="M241.0 709.5H983.0M241.0 1287.5H983.0M242.5 709.5V1287.5M981.5 709.5V1287.5M242.5 1287.5v11.0M304.08 1287.5v6.5M365.67 1287.5v11.0M427.25 1287.5v6.5M488.83 1287.5v11.0M550.42 1287.5v6.5M612 1287.5v11.0M673.58 1287.5v6.5M735.17 1287.5v11.0M796.75 1287.5v6.5M858.33 1287.5v11.0M919.92 1287.5v6.5M981.5 1287.5v11.0M242.5 1287.5h-10.5M242.5 1171.9h-6.5M242.5 1056.3h-10.5M242.5 940.7h-6.5M242.5 825.1h-10.5M242.5 709.5h-6.5" fill="none" stroke="#000" stroke-width="3" shape-rendering="crispEdges"/>
<rect x="232.0" y="1289.0" width="751.0" height="1" fill="#000" shape-rendering="crispEdges"/>
<text class="tk" transform="translate(242.5 1340.7) scale(1 1.05)" text-anchor="middle">-2.1</text>
<text class="tk" transform="translate(365.67 1340.7) scale(1 1.05)" text-anchor="middle">-1.4</text>
<text class="tk" transform="translate(488.83 1340.7) scale(1 1.05)" text-anchor="middle">-0.7</text>
<text class="tk" transform="translate(612 1340.7) scale(1 1.05)" text-anchor="middle">0.0</text>
<text class="tk" transform="translate(735.17 1340.7) scale(1 1.05)" text-anchor="middle">0.7</text>
<text class="tk" transform="translate(858.33 1340.7) scale(1 1.05)" text-anchor="middle">1.4</text>
<text class="tk" transform="translate(981.5 1340.7) scale(1 1.05)" text-anchor="middle">2.1</text>
<text class="tk" transform="translate(227.5 1299.1) scale(1 1.05)" text-anchor="end">0.0</text>
<text class="tk" transform="translate(227.5 1067.9) scale(1 1.05)" text-anchor="end">0.5</text>
<text class="tk" transform="translate(227.5 836.7) scale(1 1.05)" text-anchor="end">1.0</text>
<g clip-path="url(#clip-c)"><polyline points="1185.5,622.99 1186.2,622.24 1186.8,621.41 1187.4,620.34 1187.9,619.18 1188.4,617.67 1188.8,616.12 1189.2,614.12 1189.5,612.23 1190.1,606.9 1190.6,599.86 1191,591.19 1191.3,581.72 1191.8,555.78 1192.2,518.14 1192.5,473.12 1193.1,352.72 1193.2,341.48 1193.3,337.5 1193.4,341.41 1193.5,352.58 1194.3,504.32 1194.5,528.74 1194.8,554.71 1195.2,576.36 1195.6,589.47 1195.9,596.03 1196.2,600.81 1196.6,605.32 1197,608.41 1197.4,610.53 1197.8,611.96 1198.3,613.04 1198.5,613.29 1198.8,613.48 1199.1,613.48 1199.3,613.37 1199.6,613.03 1199.8,612.69 1200.3,611.38 1200.7,609.75 1201.1,607.42 1201.4,605.06 1201.9,599.36 1202.3,592.34 1202.7,581.55 1203.2,558.27 1203.6,524.62 1203.9,484.5 1204.5,377.12 1204.6,366.89 1204.7,363 1204.8,366 1204.9,375.34 1205.5,476.91 1205.9,522.34 1206.2,541.06 1206.5,550.59 1206.6,552.12 1206.7,552.91 1206.8,552.97 1207,550.87 1207.1,548.65 1207.3,541.55 1207.5,530.24 1207.8,502.64 1208.1,457.82 1208.6,359.86 1208.7,348.65 1208.8,345 1208.9,349.64 1209,361.83 1209.7,499.47 1210.1,545.56 1210.5,571.63 1210.9,587.05 1211.4,598.61 1211.7,603.21 1212.1,607.71 1212.6,611.65 1213.3,615.28 1213.7,616.75 1214.1,617.93 1214.5,618.89 1215,619.85 1215.6,620.75 1216.2,621.45 1216.9,622.08 1217.6,622.57 1218.5,623.04 1219.4,623.38 1220.5,623.66 1221.6,623.84 1223,623.93 1224.5,623.9 1225.9,623.74 1227.3,623.45 1228.6,623.04 1229.7,622.53 1230.7,621.92 1231.6,621.18 1232.4,620.33 1233.1,619.38 1233.7,618.36 1234.3,617.08 1234.8,615.74 1235.3,614.09 1236.1,610.48 1236.7,606.59 1237.2,602.14 1237.7,596.01 1238.1,589.31 1238.5,580.2 1238.8,571.09 1239.3,549.29 1239.7,522.58 1240,494.46 1240.4,442.89 1241.1,333.9 1241.3,317.69 1241.4,315.5 1241.5,317.6 1241.7,333.64 1242.5,456.42 1242.9,503.42 1243.2,528.63 1243.5,547.31 1243.8,561.22 1244.2,574.55 1244.6,583.8 1245,590.26 1245.4,594.73 1245.9,598.14 1246.2,599.16 1246.4,599.4 1246.5,599.37 1246.6,599.23 1246.8,598.57 1247,597.31 1247.2,595.21 1247.5,589.65 1247.8,578.89 1248.1,557.26 1248.3,531.46 1248.7,457.63 1248.8,451.5 1248.9,457.71 1249.4,546.31 1249.6,566.91 1249.8,579.73 1250.1,590.78 1250.3,595.09 1250.6,599.01 1250.9,601.09 1251.2,602.01 1251.4,602.16 1251.6,602 1251.8,601.57 1252,600.87 1252.5,597.98 1252.9,594.32 1253.3,589.11 1253.7,581.78 1254,574.36 1254.3,564.64 1254.8,540.9 1255.2,511.43 1255.5,480.34 1256.4,342.81 1256.6,319.93 1256.7,313.63 1256.8,311.5 1256.9,313.71 1257,320.08 1257.2,343.12 1258.1,481.36 1258.4,512.7 1258.8,542.53 1259.3,566.78 1259.6,576.83 1260,586.83 1260.4,594.15 1260.8,599.63 1261.3,604.73 1261.8,608.49 1262.4,611.84 1263.1,614.66 1263.9,616.97 1264.4,618.06 1264.9,618.97 1265.4,619.72 1266,620.47 1266.6,621.08 1267.3,621.65 1268,622.11 1268.8,622.52 1269.6,622.82 1270.5,623.05 1271.3,623.15 1272.1,623.16 1272.8,623.07 1273.4,622.89 1274,622.58 1274.5,622.2 1274.9,621.76 1275.3,621.15 1275.9,619.77 1276.4,617.86 1276.8,615.41 1277.2,611.44 1277.6,604.45 1277.9,595.19 1278.2,578.65 1278.4,559.84 1278.7,508.86 1279.1,401.45 1279.2,392.5 1279.3,401.46 1279.8,529.9 1280.1,570.41 1280.3,585.46 1280.6,598.99 1281,608.66 1281.2,611.65 1281.5,614.84 1281.9,617.63 1282.4,619.81 1282.7,620.7 1283.1,621.59 1283.5,622.24 1283.9,622.74 1284.4,623.2 1285,623.6 1285.7,623.92 1286.4,624.14 1287.3,624.32 1288.3,624.42 1290.6,624.41 1293.2,624.09 1294.4,623.83 1295.6,623.48 1296.7,623.06 1297.7,622.58 1298.6,622.04 1299.4,621.45 1300.2,620.73 1300.9,619.97 1301.5,619.18 1302.1,618.24 1302.7,617.12 1303.2,616 1304.1,613.42 1304.6,611.57 1305.1,609.32 1305.6,606.52 1306,603.78 1306.7,597.49 1307.3,589.86 1307.8,581.08 1308.3,568.96 1308.7,555.68 1309.1,537.71 1309.7,497.02 1310.2,443.16 1310.6,381.54 1311.4,229.02 1311.6,204.4 1311.7,197.76 1311.8,195.5 1311.9,197.76 1312,204.4 1312.2,229.02 1313.1,398.62 1313.6,467.45 1314.2,519.89 1314.5,537.69 1314.9,555.66 1315.4,571.69 1316,584.88 1316.7,595.17 1317.1,599.46 1317.5,602.94 1318,606.43 1318.5,609.2 1319.1,611.83 1319.7,613.88 1320.4,615.75 1321.2,617.35 1322,618.5 1322.8,619.26 1323.4,619.54 1323.7,619.56 1324,619.48 1324.4,619.13 1324.8,618.36 1325.1,617.29 1325.4,615.48 1325.8,610.67 1326.1,603.07 1326.3,594.04 1326.8,555.18 1326.9,552.5 1327,555.27 1327.5,594.59 1327.8,607.04 1328,611.7 1328.3,615.93 1328.6,618.4 1329.1,620.72 1329.5,621.79 1330.1,622.79 1330.8,623.5 1331.8,624.13 1333,624.59 1334.6,624.98 1336.5,625.28 1338.8,625.49 1341.1,625.58 1343.2,625.54 1344.8,625.38 1346.1,625.08 1347.1,624.59 1347.8,623.96 1348.4,623.02 1348.8,621.98 1349.3,619.72 1349.7,616.28 1350,611.6 1350.3,603.03 1350.6,586.06 1351.1,532.25 1351.2,528.5 1351.3,532.25 1351.8,586.04 1352.1,603 1352.4,611.57 1352.7,616.24 1353.1,619.66 1353.6,621.9 1353.9,622.72 1354.2,623.3 1354.6,623.86 1355.1,624.33 1355.6,624.64 1356.2,624.88 1356.9,625.06 1357.8,625.19 1359.1,625.25 1360.6,625.21 1362.2,625.07 1363.7,624.85 1365.1,624.56 1366.4,624.21 1367.6,623.77 1368.6,623.31 1369.9,622.53 1371.1,621.54 1372.2,620.3 1373.1,618.93 1373.9,617.33 1374.7,615.19 1375.3,613.08 1375.9,610.37 1376.5,606.8 1377.1,601.98 1377.6,596.57 1378.1,589.29 1378.5,581.53 1378.9,571.31 1379.5,548.99 1379.9,527.05 1380.3,496.81 1380.7,455.95 1381.6,341.87 1381.8,326.14 1381.9,321.93 1382,320.5 1382.1,321.93 1382.2,326.14 1382.4,341.88 1383.3,455.96 1383.7,496.82 1384.1,527.07 1384.5,549.01 1384.8,561.45 1385.2,574.17 1385.6,583.7 1386,590.97 1386.5,597.82 1387,602.94 1387.6,607.51 1388.3,611.41 1388.7,613.14 1389.2,614.93 1389.7,616.4 1390.3,617.84 1390.9,619.01 1391.6,620.11 1392.4,621.12 1393.2,621.92 1394.1,622.64 1395.1,623.28 1396.2,623.83 1397.5,624.34 1398.9,624.76 1400.5,625.12 1402.3,625.43 1404.3,625.69 1407.8,625.98 1412,626.18 1416.8,626.28 1421.7,626.26 1426,626.13 1429.7,625.92 1432.9,625.6 1435.5,625.19 1437.5,624.73 1439.2,624.16 1440.6,623.52 1441.9,622.71 1443,621.78 1444,620.64 1444.9,619.28 1445.7,617.67 1446.3,616.12 1446.8,614.52 1447.3,612.54 1447.7,610.61 1448.5,605.43 1449.1,599.81 1449.6,593.35 1450.1,584.43 1450.5,574.68 1450.9,561.51 1451.4,537.83 1451.9,501.82 1452.4,448.12 1453.2,339.2 1453.4,321.78 1453.5,317.1 1453.6,315.5 1453.7,317.1 1453.8,321.78 1454,339.2 1454.8,448.12 1455.2,492.64 1455.6,525.21 1456,548.49 1456.6,571.76 1457,582.25 1457.4,590.13 1457.9,597.46 1458.4,602.86 1459,607.62 1459.7,611.62 1460.1,613.39 1460.6,615.2 1461.1,616.68 1461.6,617.9 1462.2,619.11 1462.8,620.09 1463.5,621.02 1464.2,621.78 1465,622.48 1465.9,623.12 1466.9,623.68 1468,624.17 1469.2,624.59 1470.6,624.97 1473.8,625.55 1476.9,625.88 1480.5,626.12 1484.8,626.26 1489.6,626.3 1494.3,626.24 1498.6,626.08 1502.2,625.83 1505.3,625.49 1507.6,625.1 1509.5,624.64 1511.2,624.08 1512.6,623.45 1513.9,622.67 1515,621.8 1516,620.75 1516.9,619.52 1517.6,618.3 1518.3,616.76 1518.9,615.11 1519.4,613.41 1519.9,611.32 1520.4,608.74 1521.2,603.1 1521.9,595.82 1522.5,586.74 1523,576 1523.4,564.27 1524,538.56 1524.6,497.24 1525.1,444.96 1526,324.88 1526.2,308.4 1526.3,304 1526.4,302.5 1526.5,304 1526.6,308.4 1526.8,324.88 1527.7,444.96 1528.2,497.24 1528.8,538.56 1529.2,556.98 1529.6,570.55 1530.1,582.86 1530.7,593.15 1531.3,600.31 1531.7,603.93 1532.1,606.87 1532.5,609.3 1533,611.77 1533.5,613.77 1534.1,615.69 1534.7,617.24 1535.4,618.67 1536.2,619.96 1537,620.98 1538,621.97 1539.1,622.8 1540.4,623.55 1541.8,624.15 1543.4,624.66 1545.3,625.1 1547.4,625.45 1549.9,625.75 1553.4,626.01 1557.5,626.18 1562.2,626.26 1566.9,626.22 1571.1,626.09 1574.7,625.87 1577.8,625.56 1580.4,625.16 1581.9,624.84 1583.3,624.45 1584.5,624.03 1585.6,623.55 1586.6,622.99 1587.5,622.37 1588.3,621.7 1589.1,620.86 1589.8,619.96 1590.4,619.02 1591,617.89 1591.5,616.76 1592,615.4 1592.5,613.77 1593.3,610.35 1594,606.19 1594.6,601.29 1595.1,595.82 1595.6,588.49 1596,580.73 1596.4,570.55 1596.8,556.98 1597.1,543.72 1597.5,520.37 1597.9,488.24 1598.3,444.96 1599.2,324.88 1599.4,308.4 1599.5,304 1599.6,302.5 1599.7,304 1599.8,308.4 1600,324.88 1600.9,444.96 1601.4,497.24 1602,538.56 1602.6,564.27 1603,576 1603.5,586.74 1604.1,595.82 1604.8,603.1 1605.6,608.74 1606.1,611.32 1606.6,613.41 1607.1,615.11 1607.7,616.76 1608.4,618.3 1609.1,619.52 1610,620.75 1611,621.8 1612.1,622.67 1613.4,623.45 1614.8,624.08 1616.5,624.64 1618.4,625.1 1620.7,625.49 1623.8,625.83 1627.4,626.08 1631.7,626.24 1636.4,626.3 1641.2,626.26 1645.5,626.12 1649.1,625.88 1652.2,625.55 1655.4,624.97 1656.8,624.59 1658,624.17 1659.1,623.68 1660.1,623.12 1661,622.48 1661.8,621.78 1662.5,621.02 1663.2,620.09 1663.8,619.11 1664.4,617.9 1664.9,616.68 1665.4,615.2 1665.9,613.39 1666.3,611.62 1667,607.62 1667.6,602.86 1668.1,597.46 1668.6,590.13 1669,582.25 1669.4,571.76 1670,548.49 1670.4,525.21 1670.8,492.64 1671.2,448.12 1672,339.2 1672.2,321.78 1672.3,317.1 1672.4,315.5 1672.5,317.1 1672.6,321.78 1672.8,339.2 1673.6,448.12 1674.1,501.82 1674.6,537.83 1675.1,561.51 1675.5,574.68 1675.9,584.43 1676.4,593.35 1676.9,599.81 1677.5,605.43 1678.3,610.61 1678.7,612.54 1679.2,614.52 1679.7,616.12 1680.3,617.67 1681.1,619.28 1682,620.64 1683,621.78 1684.1,622.71 1685.4,623.52 1686.8,624.16 1688.5,624.73 1690.5,625.19 1693.1,625.6 1696.3,625.92 1700,626.13 1704.3,626.26 1709.2,626.28 1714,626.18 1718.2,625.98 1721.7,625.69 1723.7,625.43 1725.5,625.12 1727.1,624.76 1728.5,624.34 1729.8,623.83 1730.9,623.28 1731.9,622.64 1732.8,621.92 1733.6,621.12 1734.4,620.11 1735.1,619.01 1735.7,617.84 1736.3,616.4 1736.8,614.93 1737.3,613.14 1737.7,611.41 1738.4,607.51 1739,602.94 1739.5,597.82 1740,590.97 1740.4,583.7 1740.8,574.17 1741.2,561.45 1741.5,549.01 1741.9,527.07 1742.3,496.82 1742.7,455.96 1743.6,341.88 1743.8,326.14 1743.9,321.93 1744,320.5 1744.1,321.93 1744.2,326.14 1744.4,341.87 1745.3,455.95 1745.7,496.81 1746.1,527.05 1746.5,548.99 1747.1,571.31 1747.5,581.53 1747.9,589.29 1748.4,596.57 1748.9,601.98 1749.5,606.8 1750.2,610.88 1750.8,613.47 1751.4,615.49 1752.2,617.55 1753,619.11 1753.9,620.43 1755,621.64 1756.2,622.6 1757.5,623.37 1758.5,623.81 1759.7,624.24 1761,624.59 1762.4,624.87 1763.9,625.08 1765.5,625.21 1766.9,625.25 1768.2,625.19 1769.1,625.06 1769.8,624.88 1770.4,624.64 1770.9,624.33 1771.4,623.86 1771.8,623.3 1772.1,622.72 1772.4,621.9 1772.9,619.66 1773.3,616.24 1773.6,611.57 1773.9,603 1774.2,586.04 1774.7,532.25 1774.8,528.5 1774.9,532.25 1775.4,586.06 1775.7,603.03 1776,611.6 1776.3,616.28 1776.7,619.72 1777.2,621.98 1777.6,623.02 1778.2,623.96 1778.9,624.59 1779.9,625.08 1781.2,625.38 1782.8,625.54 1784.9,625.58 1787.2,625.49 1789.5,625.28 1791.4,624.98 1793,624.59 1794.2,624.13 1795.2,623.5 1795.9,622.79 1796.5,621.79 1796.9,620.72 1797.4,618.4 1797.7,615.93 1798,611.7 1798.2,607.04 1798.5,594.59 1799,555.27 1799.1,552.5 1799.2,555.18 1799.6,587.7 1799.8,599.09 1800,606.21 1800.3,612.27 1800.7,616.2 1801,617.71 1801.3,618.6 1801.7,619.25 1801.9,619.42 1802.2,619.54 1802.5,619.55 1802.8,619.47 1803.5,619.02 1804.3,618.11 1805.1,616.8 1805.8,615.27 1806.5,613.25 1807.1,611.03 1807.7,608.17 1808.2,605.13 1808.6,602.14 1809,598.47 1809.4,593.95 1810.1,583.03 1810.6,571.69 1811.1,555.66 1811.5,537.69 1811.8,519.89 1812.4,467.45 1812.9,398.62 1813.8,229.02 1814,204.4 1814.1,197.76 1814.2,195.5 1814.3,197.76 1814.4,204.4 1814.6,229.02 1815.4,381.54 1815.8,443.16 1816.3,497.02 1816.9,537.71 1817.3,555.68 1817.7,568.96 1818.2,581.08 1818.7,589.86 1819.3,597.49 1820,603.78 1820.4,606.52 1820.9,609.32 1821.4,611.57 1821.9,613.42 1822.8,616 1823.3,617.12 1823.9,618.24 1824.5,619.18 1825.1,619.97 1825.8,620.73 1826.6,621.45 1827.4,622.04 1828.3,622.58 1829.3,623.06 1830.4,623.48 1831.6,623.83 1832.8,624.09 1835.4,624.41 1837.7,624.42 1838.7,624.32 1839.6,624.14 1840.3,623.92 1841,623.6 1841.6,623.2 1842.1,622.74 1842.5,622.24 1842.9,621.59 1843.3,620.7 1843.6,619.81 1844.1,617.63 1844.5,614.84 1844.8,611.65 1845,608.66 1845.4,598.99 1845.7,585.46 1845.9,570.41 1846.2,529.9 1846.7,401.46 1846.8,392.5 1846.9,401.45 1847.3,508.86 1847.6,559.84 1847.8,578.65 1848.1,595.19 1848.4,604.45 1848.8,611.44 1849.2,615.41 1849.6,617.86 1850.1,619.77 1850.7,621.15 1851.1,621.76 1851.5,622.2 1852,622.58 1852.6,622.89 1853.2,623.07 1853.9,623.16 1854.7,623.15 1855.5,623.05 1856.4,622.82 1857.2,622.52 1858,622.11 1858.7,621.65 1859.4,621.08 1860,620.47 1860.6,619.72 1861.1,618.97 1861.6,618.06 1862.1,616.97 1862.9,614.66 1863.6,611.84 1864.2,608.49 1864.7,604.73 1865.2,599.63 1865.6,594.15 1866,586.83 1866.4,576.83 1866.7,566.78 1867.2,542.53 1867.6,512.7 1867.9,481.36 1868.8,343.12 1869,320.08 1869.1,313.71 1869.2,311.5 1869.3,313.63 1869.4,319.93 1869.6,342.81 1870.5,480.34 1870.8,511.43 1871.2,540.9 1871.7,564.64 1872,574.36 1872.3,581.78 1872.7,589.11 1873.1,594.32 1873.5,597.98 1874,600.87 1874.2,601.57 1874.4,602 1874.6,602.16 1874.8,602.01 1875.1,601.09 1875.4,599.01 1875.7,595.09 1875.9,590.78 1876.2,579.73 1876.4,566.91 1876.6,546.31 1877.1,457.71 1877.2,451.5 1877.3,457.63 1877.7,531.46 1877.9,557.26 1878.2,578.89 1878.5,589.65 1878.8,595.21 1879,597.31 1879.2,598.57 1879.4,599.23 1879.5,599.37 1879.6,599.4 1879.8,599.16 1880.1,598.14 1880.6,594.73 1881,590.26 1881.4,583.8 1881.8,574.55 1882.2,561.22 1882.5,547.31 1882.8,528.63 1883.1,503.42 1883.5,456.42 1884.3,333.64 1884.5,317.6 1884.6,315.5 1884.7,317.69 1884.9,333.9 1885.6,442.89 1886,494.46 1886.3,522.58 1886.7,549.29 1887.2,571.09 1887.5,580.2 1887.9,589.31 1888.3,596.01 1888.8,602.14 1889.3,606.59 1889.9,610.48 1890.7,614.09 1891.2,615.74 1891.7,617.08 1892.3,618.36 1892.9,619.38 1893.6,620.33 1894.4,621.18 1895.3,621.92 1896.3,622.53 1897.4,623.04 1898.7,623.45 1900.1,623.74 1901.5,623.9 1903,623.93 1904.4,623.84 1905.5,623.66 1906.6,623.38 1907.5,623.04 1908.4,622.57 1909.1,622.08 1909.8,621.45 1910.4,620.75 1911,619.85 1911.5,618.89 1911.9,617.93 1912.3,616.75 1912.7,615.28 1913.4,611.65 1913.9,607.71 1914.3,603.21 1914.6,598.61 1915.1,587.05 1915.5,571.63 1915.9,545.56 1916.3,499.47 1917,361.83 1917.1,349.64 1917.2,345 1917.3,348.65 1917.4,359.86 1917.9,457.82 1918.2,502.64 1918.5,530.24 1918.7,541.55 1918.9,548.65 1919,550.87 1919.2,552.97 1919.3,552.91 1919.4,552.12 1919.5,550.59 1919.8,541.06 1920.1,522.34 1920.5,476.91 1921.1,375.34 1921.2,366 1921.3,363 1921.4,366.89 1921.5,377.12 1922.1,484.5 1922.4,524.62 1922.8,558.27 1923.3,581.55 1923.7,592.34 1924.1,599.36 1924.6,605.06 1924.9,607.42 1925.3,609.75 1925.7,611.38 1926.2,612.69 1926.4,613.03 1926.7,613.37 1926.9,613.48 1927.2,613.48 1927.5,613.29 1927.7,613.04 1928.2,611.96 1928.6,610.53 1929,608.41 1929.4,605.32 1929.8,600.81 1930.1,596.03 1930.4,589.47 1930.8,576.36 1931.2,554.71 1931.5,528.74 1931.7,504.32 1932.5,352.58 1932.6,341.41 1932.7,337.5 1932.8,341.48 1932.9,352.72 1933.5,473.12 1933.8,518.14 1934.2,555.78 1934.7,581.72 1935,591.19 1935.4,599.86 1935.9,606.9 1936.5,612.23 1936.8,614.12 1937.2,616.12 1937.6,617.67 1938.1,619.18 1938.6,620.34 1939.2,621.41 1939.8,622.24 1940.5,622.99" fill="none" stroke="#00ff00" stroke-width="9.0" stroke-linejoin="round" stroke-linecap="butt" shape-rendering="crispEdges"/></g>
<path d="M1192.0 49.5H1934.0M1192.0 627.5H1934.0M1193.5 49.5V627.5M1932.5 49.5V627.5M1193.5 627.5v10.0M1255.08 627.5v5.5M1316.67 627.5v10.0M1378.25 627.5v5.5M1439.83 627.5v10.0M1501.42 627.5v5.5M1563 627.5v10.0M1624.58 627.5v5.5M1686.17 627.5v10.0M1747.75 627.5v5.5M1809.33 627.5v10.0M1870.92 627.5v5.5M1932.5 627.5v10.0M1193.5 627.5h-11.5M1193.5 544.93h-6.5M1193.5 462.36h-11.5M1193.5 379.79h-6.5M1193.5 297.21h-11.5M1193.5 214.64h-6.5M1193.5 132.07h-11.5M1193.5 49.5h-6.5" fill="none" stroke="#000" stroke-width="3" shape-rendering="crispEdges"/>
<text class="tk" transform="translate(1193.5 680.7) scale(1 1.05)" text-anchor="middle">-2.1</text>
<text class="tk" transform="translate(1316.67 680.7) scale(1 1.05)" text-anchor="middle">-1.4</text>
<text class="tk" transform="translate(1439.83 680.7) scale(1 1.05)" text-anchor="middle">-0.7</text>
<text class="tk" transform="translate(1563 680.7) scale(1 1.05)" text-anchor="middle">0.0</text>
<text class="tk" transform="translate(1686.17 680.7) scale(1 1.05)" text-anchor="middle">0.7</text>
<text class="tk" transform="translate(1809.33 680.7) scale(1 1.05)" text-anchor="middle">1.4</text>
<text class="tk" transform="translate(1932.5 680.7) scale(1 1.05)" text-anchor="middle">2.1</text>
<text class="tk" transform="translate(1178.5 639.1) scale(1 1.05)" text-anchor="end">0.0</text>
<text class="tk" transform="translate(1178.5 473.96) scale(1 1.05)" text-anchor="end">0.5</text>
<text class="tk" transform="translate(1178.5 308.81) scale(1 1.05)" text-anchor="end">1.0</text>
<text class="tk" transform="translate(1178.5 143.67) scale(1 1.05)" text-anchor="end">1.5</text>
<g clip-path="url(#clip-d)"><polyline points="1185.5,1280.59 1186.6,1279.28 1187.6,1277.71 1188.4,1276.09 1189.2,1273.99 1189.9,1271.61 1190.5,1269.01 1191.1,1265.69 1191.6,1262.15 1192.1,1257.65 1192.5,1253.11 1193.2,1242.15 1193.8,1227.92 1194.3,1210.31 1194.7,1190.13 1195,1169.64 1195.3,1142.61 1195.6,1106.62 1196.1,1018.97 1196.9,827.63 1197.1,800.53 1197.2,795.5 1197.3,796.62 1197.5,815.73 1198.4,980.9 1198.6,1001.68 1198.8,1012.81 1198.9,1014.68 1199,1014.05 1199.2,1005.1 1199.5,972.57 1200.1,878.87 1200.2,872.53 1200.3,872.5 1200.4,879.23 1200.6,910.71 1201.2,1052.98 1201.6,1123.15 1201.9,1159.03 1202.2,1184.78 1202.5,1203.58 1202.9,1221.48 1203.4,1236.63 1203.9,1246.93 1204.5,1255.47 1204.9,1259.67 1205.3,1263.04 1205.7,1265.79 1206.2,1268.57 1206.8,1271.2 1207.4,1273.27 1208.1,1275.17 1208.8,1276.66 1209.6,1278.01 1210.5,1279.18 1211.6,1280.28 1212.9,1281.22 1214.4,1281.99 1216,1282.55 1217.9,1282.96 1219.9,1283.16 1221.9,1283.14 1223.7,1282.89 1224.9,1282.54 1225.9,1282.03 1226.7,1281.38 1227.3,1280.62 1227.8,1279.68 1228.2,1278.57 1228.6,1276.93 1228.9,1275.11 1229.2,1272.41 1229.4,1269.83 1229.7,1263.94 1230,1253.48 1230.2,1241.62 1230.5,1209.58 1230.9,1142.14 1231,1136.5 1231.1,1142.07 1231.5,1209.23 1231.8,1241.06 1232,1252.77 1232.2,1260.27 1232.5,1267.12 1232.9,1272.06 1233.3,1274.71 1233.7,1276.22 1234.2,1277.26 1234.5,1277.61 1234.9,1277.87 1235.3,1277.95 1235.8,1277.87 1236.3,1277.64 1236.9,1277.18 1237.4,1276.66 1237.9,1276.02 1238.9,1274.31 1239.6,1272.7 1240.3,1270.64 1240.9,1268.41 1241.5,1265.6 1242,1262.66 1242.5,1259.01 1243.3,1251.03 1243.8,1244.05 1244.2,1236.85 1244.6,1227.65 1245,1215.67 1245.6,1189.85 1246.1,1156.94 1246.5,1118.85 1246.9,1065.82 1248.1,837.15 1248.3,818.95 1248.4,816.5 1248.5,816.48 1248.7,816.95 1248.8,817.52 1249,819.63 1249.3,826.86 1249.6,842.49 1249.8,859.91 1250.3,936.18 1251.2,1152.96 1251.5,1209.07 1251.7,1234.46 1252,1256.11 1252.3,1264.43 1252.5,1266.22 1252.7,1266.71 1252.8,1266.72 1253,1266.51 1253.5,1265.34 1253.9,1263.92 1254.3,1262.03 1255,1257.36 1255.7,1250.31 1256.2,1243.13 1256.7,1233.32 1257.1,1222.78 1257.5,1208.89 1258,1184.8 1258.5,1149.96 1259,1100.68 1259.9,988.44 1260.2,964.49 1260.3,960.75 1260.4,959.5 1260.5,960.78 1260.6,964.55 1260.9,988.58 1261.8,1101.09 1262.4,1158.58 1263,1196.32 1263.3,1209.81 1263.7,1223.87 1264.2,1236.86 1264.7,1246.33 1265.3,1254.59 1266.1,1262.21 1266.5,1265.04 1267,1267.94 1267.5,1270.28 1268.1,1272.55 1268.7,1274.35 1269.4,1276.03 1270.1,1277.37 1270.9,1278.57 1271.7,1279.52 1272.6,1280.35 1273.5,1280.98 1274.5,1281.49 1275.5,1281.82 1276.5,1281.95 1277.4,1281.84 1278.1,1281.53 1278.6,1281.11 1279.1,1280.43 1279.5,1279.56 1279.8,1278.61 1280.3,1276.04 1280.7,1272.27 1281,1267.36 1281.2,1262.25 1281.4,1254.58 1281.6,1242.66 1281.9,1210.32 1282.3,1142.17 1282.4,1136.5 1282.5,1142.19 1283,1223.75 1283.3,1249.48 1283.6,1262.49 1283.9,1269.59 1284.3,1274.82 1284.6,1277.14 1284.9,1278.73 1285.2,1279.85 1285.5,1280.68 1285.9,1281.48 1286.4,1282.16 1287,1282.7 1287.6,1283.05 1288.3,1283.32 1289.1,1283.48 1290.5,1283.51 1291.1,1283.42 1291.7,1283.23 1292.4,1282.83 1293.6,1281.69 1294,1281.5 1294.4,1281.62 1295.3,1282.35 1295.9,1282.7 1296.6,1282.88 1297.5,1282.91 1298.8,1282.72 1300.2,1282.32 1301.5,1281.78 1302.8,1281.05 1304.3,1279.92 1305,1279.24 1305.7,1278.43 1306.9,1276.68 1307.9,1274.71 1308.8,1272.34 1309.6,1269.56 1310.3,1266.37 1311,1262.15 1311.6,1257.34 1312.1,1252.15 1312.6,1245.41 1313,1238.5 1313.4,1229.72 1313.8,1218.4 1314.4,1194.44 1314.8,1171.7 1315.2,1141.36 1315.7,1090.33 1316.5,992.46 1316.8,968.8 1316.9,964.97 1317,963.5 1317.1,964.45 1317.2,967.77 1317.4,980.75 1318.5,1104.33 1318.9,1138.98 1319.3,1164.36 1319.8,1185.73 1320.3,1198.6 1320.6,1203.17 1320.9,1205.74 1321,1206.19 1321.1,1206.43 1321.2,1206.48 1321.4,1205.97 1321.5,1205.42 1321.8,1202.5 1322,1199.44 1322.5,1187.3 1322.9,1171.82 1323.3,1149.55 1323.9,1099.35 1325,971.39 1325.2,957.94 1325.3,954.5 1325.4,953.5 1325.5,955 1325.6,958.95 1325.9,983.35 1326.8,1096.16 1327.3,1145.75 1327.9,1186.62 1328.2,1201.28 1328.6,1216.58 1329.1,1230.74 1329.6,1241.08 1330.2,1250.13 1330.9,1257.66 1331.7,1263.7 1332.2,1266.55 1332.7,1268.9 1333.3,1271.2 1333.9,1273.07 1334.6,1274.85 1335.3,1276.29 1336.1,1277.64 1337,1278.85 1338,1279.93 1339.1,1280.86 1340.3,1281.67 1341.7,1282.41 1343.2,1283.02 1344.9,1283.55 1347,1284.03 1349.3,1284.4 1351.9,1284.67 1354.6,1284.82 1357.4,1284.85 1360.1,1284.75 1362.5,1284.53 1364.6,1284.2 1365.9,1283.9 1367.1,1283.52 1368.1,1283.13 1369.1,1282.62 1370,1282.03 1370.8,1281.38 1371.5,1280.66 1372.2,1279.77 1372.8,1278.81 1373.3,1277.85 1373.8,1276.67 1374.3,1275.23 1375.1,1272.12 1375.8,1268.16 1376.3,1264.21 1376.8,1258.8 1377.2,1252.9 1377.6,1244.93 1378.2,1226.63 1378.7,1201.23 1379,1178.59 1379.3,1147.78 1380.3,990.12 1380.5,971.99 1380.6,969.5 1380.7,971.82 1380.9,989.61 1381.6,1105.05 1381.9,1145.51 1382.3,1183.89 1382.7,1209.03 1383,1222.07 1383.3,1231.68 1383.7,1240.76 1384.1,1246.86 1384.6,1251.6 1384.8,1252.8 1385.1,1253.98 1385.4,1254.49 1385.6,1254.46 1385.7,1254.34 1386,1253.53 1386.2,1252.61 1386.6,1249.71 1387,1245.09 1387.3,1240.15 1387.6,1233.5 1388.1,1216.96 1388.6,1189.36 1388.9,1164.27 1389.2,1130.02 1390.1,983.08 1390.3,964.87 1390.4,962.5 1390.5,965.04 1390.7,983.59 1391.4,1102.91 1391.8,1156.44 1392.2,1192.6 1392.6,1216.62 1392.9,1229.37 1393.3,1241.76 1393.7,1250.59 1394.1,1257.08 1394.7,1263.97 1395.3,1268.7 1395.7,1271.06 1396.1,1272.99 1396.5,1274.57 1397,1276.19 1397.5,1277.5 1398.1,1278.77 1398.7,1279.79 1399.4,1280.74 1400.2,1281.61 1401.1,1282.37 1402,1282.97 1403.1,1283.55 1404.4,1284.07 1405.8,1284.49 1407.4,1284.85 1409.2,1285.13 1411.2,1285.35 1413.3,1285.47 1415.3,1285.48 1417.1,1285.39 1419.1,1285.1 1420,1284.85 1420.7,1284.57 1421.3,1284.24 1421.9,1283.8 1422.4,1283.29 1422.8,1282.76 1423.5,1281.41 1424.1,1279.52 1424.6,1276.96 1425,1273.73 1425.5,1266.71 1425.9,1256.04 1426.2,1241.53 1426.5,1214.91 1426.8,1162.22 1427.3,995.15 1427.4,983.5 1427.5,995.15 1428,1162.21 1428.3,1214.9 1428.5,1234.46 1428.8,1252.05 1429.1,1262.19 1429.3,1266.69 1429.6,1271.42 1430,1275.49 1430.4,1278.09 1430.9,1280.21 1431.2,1281.1 1431.6,1282.01 1432,1282.69 1432.4,1283.21 1432.9,1283.71 1433.5,1284.14 1434.2,1284.49 1434.9,1284.73 1436.6,1285.04 1437.9,1285.09 1439.2,1285.04 1440.5,1284.89 1441.8,1284.61 1442.9,1284.27 1443.9,1283.83 1444.8,1283.29 1445.6,1282.66 1446.3,1281.94 1446.9,1281.15 1447.5,1280.15 1448,1279.1 1448.5,1277.77 1448.9,1276.45 1449.6,1273.32 1450.2,1269.39 1450.7,1264.69 1451.1,1259.47 1451.5,1252.25 1451.8,1244.91 1452.1,1235.14 1452.6,1210.31 1452.9,1187.24 1453.2,1154.67 1453.5,1109.61 1454.1,996.62 1454.3,974.5 1454.4,971.5 1454.5,974.51 1454.7,996.63 1455.3,1109.64 1455.6,1154.7 1455.9,1187.29 1456.2,1210.37 1456.6,1231.24 1456.9,1242.04 1457.2,1250.11 1457.5,1256.25 1457.9,1262.38 1458.4,1267.82 1458.9,1271.67 1459.5,1274.96 1460.1,1277.31 1460.8,1279.29 1461.6,1280.91 1462.6,1282.32 1463.7,1283.38 1465.1,1284.3 1466.8,1285.03 1468.7,1285.57 1471.1,1286.01 1474,1286.34 1477.5,1286.59 1482,1286.79 1487.7,1286.93 1503.3,1287.08 1518.3,1287.01 1523.5,1286.88 1527.6,1286.68 1530.9,1286.4 1533.7,1286.02 1536,1285.52 1538,1284.86 1539.8,1283.97 1541.3,1282.9 1542.6,1281.6 1543.8,1279.93 1544.9,1277.82 1545.8,1275.51 1546.6,1272.84 1547.4,1269.36 1548.2,1264.79 1548.9,1259.55 1549.6,1252.75 1550.2,1245.25 1550.8,1235.73 1551.3,1225.82 1551.8,1213.68 1552.2,1202.03 1553,1172.49 1553.7,1138.79 1555.6,1021.14 1556.1,993.96 1556.6,974.01 1556.8,968.47 1557.1,962.88 1557.3,960.93 1557.4,960.45 1557.5,960.29 1557.6,960.43 1557.8,961.54 1558.1,965.01 1558.7,976.53 1560.2,1012.54 1561,1027.98 1561.5,1035.18 1562,1040.34 1562.5,1043.45 1562.7,1044.11 1562.8,1044.32 1563,1044.48 1563.2,1044.32 1563.3,1044.11 1563.5,1043.45 1563.9,1041.13 1564.4,1036.38 1564.9,1029.58 1565.8,1012.54 1567.6,970.17 1568.1,962.48 1568.3,960.85 1568.4,960.43 1568.5,960.29 1568.6,960.45 1568.7,960.93 1568.9,962.88 1569.2,968.47 1569.5,977.32 1569.8,989.32 1570.4,1021.14 1572.3,1138.79 1573,1172.49 1573.7,1198.81 1574.5,1221.26 1575,1232 1575.5,1240.77 1576,1247.95 1576.6,1254.88 1577.2,1260.39 1577.9,1265.43 1578.6,1269.36 1579.4,1272.84 1580.3,1275.8 1581.3,1278.26 1582.4,1280.25 1583,1281.1 1583.7,1281.94 1584.4,1282.64 1585.1,1283.23 1585.9,1283.79 1586.8,1284.31 1588.6,1285.08 1590.8,1285.72 1593.4,1286.19 1596.6,1286.55 1600.4,1286.79 1605.3,1286.96 1619.5,1287.09 1636,1286.97 1642.3,1286.84 1647.2,1286.66 1651,1286.42 1654.1,1286.11 1656.6,1285.72 1658.7,1285.2 1660.4,1284.55 1661.9,1283.69 1662.6,1283.13 1663.2,1282.54 1664.2,1281.23 1665.1,1279.53 1665.8,1277.64 1666.4,1275.41 1667,1272.31 1667.5,1268.7 1668,1263.63 1668.4,1257.98 1668.7,1252.34 1669,1244.99 1669.3,1235.21 1669.8,1210.37 1670.1,1187.29 1670.4,1154.7 1670.7,1109.64 1671.3,996.63 1671.5,974.51 1671.6,971.5 1671.7,974.5 1671.9,996.62 1672.5,1109.61 1672.8,1154.67 1673.1,1187.24 1673.4,1210.31 1673.9,1235.14 1674.2,1244.91 1674.5,1252.25 1674.9,1259.47 1675.3,1264.69 1675.8,1269.39 1676.4,1273.32 1677.1,1276.45 1677.5,1277.77 1678,1279.1 1678.5,1280.15 1679.1,1281.15 1679.7,1281.94 1680.4,1282.66 1681.2,1283.29 1682.1,1283.83 1683.1,1284.27 1684.2,1284.61 1685.5,1284.89 1686.8,1285.04 1688.1,1285.09 1689.4,1285.04 1691.1,1284.73 1691.8,1284.49 1692.5,1284.14 1693.1,1283.71 1693.6,1283.21 1694,1282.69 1694.4,1282.01 1694.8,1281.1 1695.1,1280.21 1695.6,1278.09 1696,1275.49 1696.4,1271.42 1696.7,1266.69 1696.9,1262.19 1697.2,1252.05 1697.5,1234.46 1697.7,1214.9 1698,1162.21 1698.5,995.15 1698.6,983.5 1698.7,995.15 1699.2,1162.22 1699.5,1214.91 1699.8,1241.53 1700.1,1256.04 1700.5,1266.71 1701,1273.73 1701.4,1276.96 1701.9,1279.52 1702.5,1281.41 1703.2,1282.76 1703.6,1283.29 1704.1,1283.8 1704.7,1284.24 1705.3,1284.57 1706,1284.85 1706.8,1285.08 1708.7,1285.37 1710.4,1285.48 1712.4,1285.47 1714.5,1285.37 1716.5,1285.17 1718.3,1284.9 1719.9,1284.57 1721.4,1284.14 1722.7,1283.64 1723.8,1283.09 1724.7,1282.52 1725.6,1281.8 1726.4,1280.98 1727.1,1280.08 1727.8,1278.95 1728.4,1277.73 1728.9,1276.48 1729.4,1274.93 1729.8,1273.41 1730.6,1269.34 1731.2,1264.88 1731.8,1258.43 1732.3,1250.59 1732.7,1241.76 1733.1,1229.37 1733.4,1216.62 1733.8,1192.6 1734.2,1156.44 1734.6,1102.91 1735.3,983.59 1735.5,965.04 1735.6,962.5 1735.7,964.87 1735.9,983.08 1736.8,1130.02 1737.1,1164.27 1737.4,1189.36 1737.9,1216.96 1738.4,1233.5 1738.7,1240.15 1739,1245.09 1739.4,1249.71 1739.8,1252.61 1740,1253.53 1740.3,1254.34 1740.4,1254.46 1740.6,1254.49 1740.9,1253.98 1741.2,1252.8 1741.4,1251.6 1741.9,1246.86 1742.3,1240.76 1742.7,1231.68 1743,1222.07 1743.3,1209.03 1743.7,1183.89 1744.1,1145.51 1744.4,1105.05 1745.1,989.61 1745.3,971.82 1745.4,969.5 1745.5,971.99 1745.7,990.12 1746.7,1147.78 1747,1178.59 1747.3,1201.23 1747.8,1226.63 1748.4,1244.93 1748.8,1252.9 1749.2,1258.8 1749.7,1264.21 1750.2,1268.16 1750.9,1272.12 1751.7,1275.23 1752.2,1276.67 1752.7,1277.85 1753.2,1278.81 1753.8,1279.77 1754.5,1280.66 1755.2,1281.38 1756,1282.03 1756.9,1282.62 1757.9,1283.13 1758.9,1283.52 1760.1,1283.9 1761.4,1284.2 1763.5,1284.53 1765.9,1284.75 1768.6,1284.85 1771.4,1284.82 1774.1,1284.67 1776.7,1284.4 1779,1284.03 1781.1,1283.55 1782.8,1283.02 1784.3,1282.41 1785.7,1281.67 1786.9,1280.86 1788,1279.93 1789,1278.85 1789.9,1277.64 1790.7,1276.29 1791.4,1274.85 1792.1,1273.07 1792.7,1271.2 1793.3,1268.9 1793.8,1266.55 1794.3,1263.7 1795.1,1257.66 1795.8,1250.13 1796.4,1241.08 1796.9,1230.74 1797.4,1216.58 1797.8,1201.28 1798.1,1186.62 1798.7,1145.75 1799.2,1096.16 1800.1,983.35 1800.4,958.95 1800.5,955 1800.6,953.5 1800.7,954.5 1800.8,957.94 1801.1,980.82 1802,1088.77 1802.6,1142.7 1802.9,1161.65 1803.3,1180.3 1803.7,1193 1804.2,1202.5 1804.5,1205.42 1804.7,1206.32 1804.8,1206.48 1804.9,1206.43 1805.1,1205.74 1805.2,1205.1 1805.5,1201.88 1805.8,1196.59 1806.1,1188.9 1806.6,1169.45 1807,1146.13 1807.4,1113.93 1808.6,980.75 1808.8,967.77 1808.9,964.45 1809,963.5 1809.1,964.97 1809.2,968.8 1809.4,982.83 1810.5,1112.55 1810.8,1141.36 1811.2,1171.7 1811.6,1194.44 1812.1,1215.07 1812.7,1232.13 1813.3,1243.83 1813.7,1249.67 1814.1,1254.38 1814.6,1259.09 1815.1,1262.83 1815.7,1266.37 1816.3,1269.16 1817,1271.72 1817.7,1273.74 1818.5,1275.56 1819.5,1277.33 1820.6,1278.79 1821.8,1280 1823.2,1281.05 1824.8,1281.92 1826.6,1282.57 1828.3,1282.9 1829.2,1282.91 1830,1282.74 1830.6,1282.42 1831.6,1281.62 1832,1281.5 1832.4,1281.69 1833.3,1282.58 1833.8,1282.97 1834.4,1283.27 1835,1283.44 1836,1283.54 1837,1283.47 1837.9,1283.25 1838.7,1282.89 1839.3,1282.46 1839.8,1281.92 1840.2,1281.3 1840.6,1280.43 1840.9,1279.52 1841.2,1278.26 1841.7,1274.82 1842.1,1269.59 1842.4,1262.49 1842.6,1254.78 1842.8,1242.81 1843.1,1210.42 1843.5,1142.19 1843.6,1136.5 1843.7,1142.17 1844.1,1210.32 1844.4,1242.66 1844.6,1254.58 1844.9,1265.05 1845.2,1270.9 1845.6,1275.3 1846,1277.77 1846.5,1279.56 1846.8,1280.24 1847.2,1280.88 1847.6,1281.31 1848.1,1281.65 1848.7,1281.87 1849.4,1281.95 1850.2,1281.88 1851,1281.68 1851.9,1281.31 1852.7,1280.86 1853.5,1280.27 1854.2,1279.62 1855.3,1278.3 1856.2,1276.83 1857,1275.12 1857.8,1272.87 1858.5,1270.28 1859.1,1267.41 1859.6,1264.38 1860.1,1260.58 1860.6,1255.72 1861.1,1249.4 1861.5,1242.88 1861.9,1234.59 1862.5,1217.33 1863.1,1191.13 1863.6,1158.58 1864,1122.75 1865.2,978.74 1865.4,964.55 1865.5,960.78 1865.6,959.5 1865.7,960.75 1865.8,964.49 1866.1,988.44 1867,1100.68 1867.5,1149.96 1868,1184.8 1868.5,1208.89 1868.9,1222.78 1869.3,1233.32 1869.8,1243.13 1870.4,1251.5 1871.1,1258.15 1871.8,1262.55 1872.2,1264.31 1872.7,1265.89 1873.1,1266.64 1873.2,1266.72 1873.3,1266.71 1873.4,1266.56 1873.6,1265.55 1873.7,1264.43 1874,1256.11 1874.3,1234.46 1874.5,1209.07 1874.8,1152.96 1875.7,936.18 1876.2,859.91 1876.4,842.49 1876.7,826.86 1877,819.63 1877.2,817.52 1877.3,816.95 1877.5,816.48 1877.6,816.5 1877.7,818.95 1877.9,837.15 1879.1,1065.82 1879.5,1118.85 1879.9,1156.94 1880.4,1189.85 1880.7,1204.2 1881.1,1218.98 1881.5,1230.17 1881.9,1238.82 1882.3,1245.61 1882.8,1252.21 1883.6,1259.81 1884.1,1263.3 1884.6,1266.12 1885.2,1268.82 1885.8,1270.97 1886.5,1272.96 1887.2,1274.51 1888.2,1276.16 1888.7,1276.78 1889.2,1277.27 1889.7,1277.64 1890.2,1277.87 1890.7,1277.95 1891.1,1277.87 1891.5,1277.61 1891.8,1277.26 1892.3,1276.22 1892.7,1274.71 1893.1,1272.06 1893.5,1267.12 1893.8,1260.27 1894,1252.77 1894.2,1241.06 1894.5,1209.23 1894.9,1142.07 1895,1136.5 1895.1,1142.14 1895.6,1222.76 1895.9,1248.22 1896.1,1257.7 1896.4,1266.26 1896.7,1271.22 1896.9,1273.44 1897.2,1275.79 1897.6,1277.84 1898,1279.18 1898.5,1280.29 1899.2,1281.27 1900,1281.97 1901,1282.5 1902.2,1282.87 1903.7,1283.11 1905.7,1283.17 1907.8,1283.01 1909.7,1282.63 1911.5,1282.04 1913,1281.28 1914.4,1280.28 1915.6,1279.07 1916.6,1277.7 1917.3,1276.47 1918,1274.93 1918.6,1273.27 1919.2,1271.2 1919.7,1269.06 1920.2,1266.4 1921,1260.58 1921.7,1252.98 1922.3,1243.25 1922.8,1231.3 1923.2,1217.6 1923.6,1197.93 1923.9,1177.1 1924.4,1123.15 1924.8,1052.98 1925.4,910.71 1925.6,879.23 1925.7,872.5 1925.8,872.53 1925.9,878.87 1926.5,972.57 1926.8,1005.1 1927,1014.05 1927.1,1014.68 1927.2,1012.81 1927.4,1001.68 1927.6,980.9 1928.5,815.73 1928.7,796.62 1928.8,795.5 1928.9,800.53 1929.1,827.63 1929.9,1018.97 1930.4,1106.62 1930.7,1142.61 1931,1169.64 1931.3,1190.13 1931.7,1210.31 1932.2,1227.92 1932.8,1242.15 1933.5,1253.11 1933.9,1257.65 1934.4,1262.15 1934.9,1265.69 1935.5,1269.01 1936.1,1271.61 1936.8,1273.99 1937.6,1276.09 1938.4,1277.71 1939.4,1279.28 1940.5,1280.59" fill="none" stroke="#0000ff" stroke-width="9.0" stroke-linejoin="round" stroke-linecap="butt" shape-rendering="crispEdges"/></g>
<path d="M1192.0 709.5H1934.0M1192.0 1287.5H1934.0M1193.5 709.5V1287.5M1932.5 709.5V1287.5M1193.5 1287.5v11.0M1255.08 1287.5v6.5M1316.67 1287.5v11.0M1378.25 1287.5v6.5M1439.83 1287.5v11.0M1501.42 1287.5v6.5M1563 1287.5v11.0M1624.58 1287.5v6.5M1686.17 1287.5v11.0M1747.75 1287.5v6.5M1809.33 1287.5v11.0M1870.92 1287.5v6.5M1932.5 1287.5v11.0M1193.5 1287.5h-11.5M1193.5 1204.93h-6.5M1193.5 1122.36h-11.5M1193.5 1039.79h-6.5M1193.5 957.21h-11.5M1193.5 874.64h-6.5M1193.5 792.07h-11.5M1193.5 709.5h-6.5" fill="none" stroke="#000" stroke-width="3" shape-rendering="crispEdges"/>
<rect x="1182.0" y="1289.0" width="752.0" height="1" fill="#000" shape-rendering="crispEdges"/>
<text class="tk" transform="translate(1193.5 1340.7) scale(1 1.05)" text-anchor="middle">-2.1</text>
<text class="tk" transform="translate(1316.67 1340.7) scale(1 1.05)" text-anchor="middle">-1.4</text>
<text class="tk" transform="translate(1439.83 1340.7) scale(1 1.05)" text-anchor="middle">-0.7</text>
<text class="tk" transform="translate(1563 1340.7) scale(1 1.05)" text-anchor="middle">0.0</text>
<text class="tk" transform="translate(1686.17 1340.7) scale(1 1.05)" text-anchor="middle">0.7</text>
<text class="tk" transform="translate(1809.33 1340.7) scale(1 1.05)" text-anchor="middle">1.4</text>
<text class="tk" transform="translate(1932.5 1340.7) scale(1 1.05)" text-anchor="middle">2.1</text>
<text class="tk" transform="translate(1178.5 1299.1) scale(1 1.05)" text-anchor="end">0.0</text>
<text class="tk" transform="translate(1178.5 1133.96) scale(1 1.05)" text-anchor="end">0.5</text>
<text class="tk" transform="translate(1178.5 968.81) scale(1 1.05)" text-anchor="end">1.0</text>
<text class="tk" transform="translate(1178.5 803.67) scale(1 1.05)" text-anchor="end">1.5</text>
<text class="tk" transform="translate(249 99.5) scale(1 1)">(a)</text>
<text class="tk" transform="translate(255 784.5) scale(1 1)">(b)</text>
<text class="tk" transform="translate(1213 111) scale(1 1)">(c)</text>
<text class="tk" transform="translate(1209 769) scale(1 1)">(d)</text>
<line x1="511.5" y1="98.5" x2="562.5" y2="98.5" stroke="#000" stroke-width="9" stroke-linecap="round" shape-rendering="crispEdges"/>
<text class="tk" transform="translate(583.2 107) scale(1 1.05)">N<tspan font-size="30" dy="18.57">Z</tspan><tspan dy="-18.57"> = 7</tspan></text>
<line x1="514.1" y1="770.6" x2="565.5" y2="770.6" stroke="#f00" stroke-width="9" stroke-linecap="round" shape-rendering="crispEdges"/>
<text class="tk" transform="translate(586.5 779) scale(1 1.05)">N<tspan font-size="30" dy="18.57">Z</tspan><tspan dy="-18.57"> = 9</tspan></text>
<line x1="1435.5" y1="133" x2="1487.1" y2="133" stroke="#0f0" stroke-width="9" stroke-linecap="round" shape-rendering="crispEdges"/>
<text class="tk" transform="translate(1507.5 141) scale(1 1.05)">N<tspan font-size="30" dy="18.57">Z</tspan><tspan dy="-18.57"> = 11</tspan></text>
<line x1="1449.5" y1="768" x2="1500.5" y2="768" stroke="#00f" stroke-width="9" stroke-linecap="round" shape-rendering="crispEdges"/>
<text class="tk" transform="translate(1521.5 776.2) scale(1 1.05)">N<tspan font-size="30" dy="18.57">Z</tspan><tspan dy="-18.57"> = 13</tspan></text>
<text class="tk" transform="translate(533.5 207.8) scale(1 1.05)">N<tspan font-size="30" dy="19.52">a</tspan><tspan dy="-19.52"> = 40</tspan></text>
<text class="tk" transform="translate(530.5 293) scale(1 1.05)">k<tspan font-size="30" dy="19.05">B</tspan><tspan dy="-19.05">T = 0</tspan></text>
<text class="tk" transform="translate(490 848) scale(1 1.05)"><tspan class="sy">Γ</tspan><tspan font-size="30" dy="19.05" dx="-2.5">t</tspan><tspan dy="-19.05"> = 90 meV</tspan></text>
<text class="tk" transform="translate(602 486.2) scale(1 1.05)"><tspan class="sy">Σ</tspan><tspan font-size="30" dy="18.57" dx="-6">0</tspan></text>
<path d="M614.7 513V560" stroke="#000" stroke-width="4.6" fill="none" shape-rendering="crispEdges"/>
<path d="M609.9000000000001 559.5h9.6L614.7 578z" fill="#000" stroke="#000" stroke-width="3.4" stroke-linejoin="round" shape-rendering="crispEdges"/>
<text class="tk" transform="translate(1541 847) scale(1 1.05)"><tspan class="sy">Σ</tspan><tspan font-size="30" dy="18.57" dx="-6">0</tspan></text>
<path d="M1562.5 866.2V926" stroke="#00f" stroke-width="4.6" fill="none" shape-rendering="crispEdges"/>
<path d="M1557.7 925.5h9.6L1562.5 944z" fill="#00f" stroke="#00f" stroke-width="3.4" stroke-linejoin="round" shape-rendering="crispEdges"/>
<text class="ti sr" transform="translate(520.8 1413.5) scale(1.16 1.02)">μ</text>
<text class="ti" transform="translate(582 1413.5) scale(1 1.02)">(eV)</text>
<text class="ti sr" transform="translate(1461.6 1417.5) scale(1.16 1.02)">μ</text>
<text class="ti" transform="translate(1522.2 1417.5) scale(1 1.02)">(eV)</text>
<text class="ti" transform="translate(113.2 504) rotate(-90)" style="font-size:74.7px">G<tspan font-size="47" dy="30">e</tspan><tspan dy="-30">(2e</tspan><tspan font-size="47" dy="-40.7">2</tspan><tspan dy="40.7">/h)</tspan></text>
<text class="ti" transform="translate(117.5 1211) rotate(-90)" style="font-size:75.4px">G<tspan dy="28">e</tspan><tspan dy="-28">(2e</tspan><tspan dy="-43">2</tspan><tspan dy="43">/h)</tspan></text>
</svg></body></html>
